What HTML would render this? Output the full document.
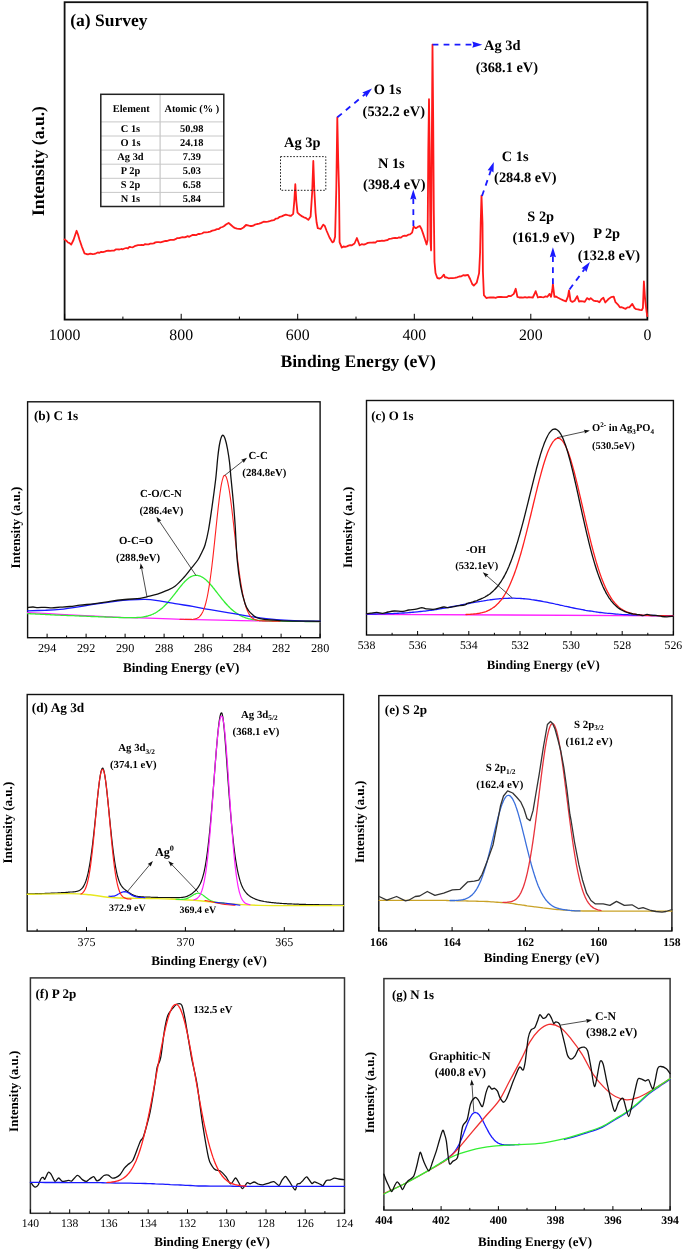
<!DOCTYPE html>
<html><head><meta charset="utf-8"><title>XPS spectra</title>
<style>html,body{margin:0;padding:0;background:#fff;}svg{display:block;will-change:transform;}text{font-family:"Liberation Serif",serif;text-rendering:geometricPrecision;}</style>
</head><body>
<svg width="685" height="1251" viewBox="0 0 685 1251">
<rect width="685" height="1251" fill="#fff"/>
<rect x="64.6" y="2.2" width="582.8" height="317.4" fill="none" stroke="#111" stroke-width="1.8"/>
<line x1="64.6" y1="319.6" x2="64.6" y2="313.8" stroke="#000" stroke-width="1.0" />
<line x1="181.2" y1="319.6" x2="181.2" y2="313.8" stroke="#000" stroke-width="1.0" />
<line x1="297.7" y1="319.6" x2="297.7" y2="313.8" stroke="#000" stroke-width="1.0" />
<line x1="414.3" y1="319.6" x2="414.3" y2="313.8" stroke="#000" stroke-width="1.0" />
<line x1="530.8" y1="319.6" x2="530.8" y2="313.8" stroke="#000" stroke-width="1.0" />
<line x1="647.4" y1="319.6" x2="647.4" y2="313.8" stroke="#000" stroke-width="1.0" />
<line x1="122.9" y1="319.6" x2="122.9" y2="316.6" stroke="#000" stroke-width="1.0" />
<line x1="239.4" y1="319.6" x2="239.4" y2="316.6" stroke="#000" stroke-width="1.0" />
<line x1="356" y1="319.6" x2="356" y2="316.6" stroke="#000" stroke-width="1.0" />
<line x1="472.6" y1="319.6" x2="472.6" y2="316.6" stroke="#000" stroke-width="1.0" />
<line x1="589.1" y1="319.6" x2="589.1" y2="316.6" stroke="#000" stroke-width="1.0" />
<text x="64.6" y="339.8" font-size="15.8" font-weight="normal" text-anchor="middle" fill="#000" font-family="Liberation Serif" >1000</text>
<text x="181.2" y="339.8" font-size="15.8" font-weight="normal" text-anchor="middle" fill="#000" font-family="Liberation Serif" >800</text>
<text x="297.7" y="339.8" font-size="15.8" font-weight="normal" text-anchor="middle" fill="#000" font-family="Liberation Serif" >600</text>
<text x="414.3" y="339.8" font-size="15.8" font-weight="normal" text-anchor="middle" fill="#000" font-family="Liberation Serif" >400</text>
<text x="530.8" y="339.8" font-size="15.8" font-weight="normal" text-anchor="middle" fill="#000" font-family="Liberation Serif" >200</text>
<text x="647.4" y="339.8" font-size="15.8" font-weight="normal" text-anchor="middle" fill="#000" font-family="Liberation Serif" >0</text>
<text x="70.2" y="25.5" font-size="17.5" font-weight="bold" text-anchor="start" fill="#000" font-family="Liberation Serif" >(a) Survey</text>
<text x="280.5" y="367" font-size="17.6" font-weight="bold" text-anchor="start" fill="#000" font-family="Liberation Serif" >Binding Energy (eV)</text>
<text transform="translate(43.8 216) rotate(-90)" font-size="17.6" font-weight="bold" font-family="Liberation Serif" >Intensity (a.u.)</text>
<path d="M64.6 239.4 L66.3 240.7 L68 242.5 L69.6 243.1 L71.2 244.6 L73.5 240 L76.6 230.8 L78 234.5 L79.6 240 L82 247 L84.5 253.3 L86.2 254 L88 254.3 L90.3 253.7 L92.7 254.2 L94.4 253.9 L96.1 253.3 L97.8 252.5 L99.5 252.8 L101.2 251.8 L102.9 252.1 L104.7 251.7 L106.5 250.9 L108.4 250.6 L110.2 250.8 L112 250.6 L113.9 250.7 L115.7 249.4 L117.6 249.3 L119.4 249.5 L121.3 249 L122.9 249.3 L124.5 248.5 L126.2 248 L127.8 248.5 L129.4 246.9 L131 247.2 L132.8 247.3 L134.6 246.2 L136.3 245.6 L138.1 245.2 L139.9 245.1 L141.7 245 L143.4 245.2 L145.1 244.1 L146.8 244.4 L148.6 244.3 L150.3 243.7 L152 243.6 L153.7 243.4 L155.4 242.4 L157.1 242.1 L158.8 242.1 L160.5 242.4 L162.2 241.9 L163.8 241.4 L165.5 240.9 L167.1 241 L168.7 240.4 L170.4 239.9 L172 239.8 L173.8 239.8 L175.5 239.2 L177.3 238.1 L179.1 238.2 L180.8 237.7 L182.6 237.2 L184.3 237.4 L186 237 L187.6 236.1 L189.3 236.8 L191 235.8 L192.8 234.9 L194.6 235 L196.4 235.1 L198.2 233.9 L200 234 L202 233.5 L204 232.3 L206 232.4 L208.1 232.1 L210.2 231.6 L212.3 230.7 L214.7 230.1 L217 229.2 L218.8 229 L220.7 227.5 L222.5 227 L224.2 226 L226 224.5 L228.6 222.9 L231 225 L233.7 227.4 L235.3 228.1 L237 228.6 L238.9 228.9 L240.9 229 L243.5 227.5 L246 225 L248 225.4 L250 226 L251.7 226 L253.3 225.7 L255 224.6 L257.1 224 L259.2 223.7 L261.3 222.9 L263.6 221.7 L266 221.8 L267.8 221.6 L269.7 221.1 L271.5 220.5 L273.8 220.2 L276 218.6 L277.9 218.3 L279.8 216.8 L281.7 216.4 L283.8 215.4 L285.8 214.7 L289 215.5 L291 215.8 L293.2 213.8 L294.3 201 L295.3 184.2 L296.3 201 L297.5 212.7 L299.5 214.5 L302.2 216.4 L303.9 217.3 L305.5 217.8 L308.3 219.9 L310.6 216.5 L312.2 192 L313.3 161 L314.4 192 L315.6 213 L316.6 222.5 L317.8 228.2 L320.6 229 L323.2 224.6 L324.8 226 L326.7 231 L329.5 237.5 L332.4 242.4 L333.8 241.5 L335.1 236.7 L336.3 188.5 L337.3 117.4 L338.2 160 L339 188.5 L339.6 242.3 L341.8 247.6 L343.5 246.5 L345.2 246.8 L346.9 246.4 L348.5 245.6 L350.2 245.1 L351.9 245.3 L354.5 243.5 L356.9 238 L358.2 241.5 L359.6 245.3 L361.7 244.2 L363.9 244.7 L366 243.8 L367.9 242.9 L369.9 242.7 L371.9 242.6 L373.8 242.4 L375.4 242.6 L377.1 241.1 L378.7 241.2 L380.4 241 L382 240.6 L383.9 240.8 L385.7 240.3 L387.6 240 L389.4 238.8 L391.3 238.7 L393.2 238.2 L395.1 237.8 L397.1 238.2 L399 237.3 L400.9 237.6 L402.8 236.1 L404.7 235.7 L406.6 235.8 L408.3 234.7 L410 234.4 L412.1 232.6 L413.6 226.6 L415.8 228.2 L417.8 226.9 L419.8 226 L421.5 229 L423.1 233.6 L425 239.5 L426.6 244.5 L427.6 240 L428.3 150 L429 99.2 L429.7 150 L430.4 240 L431.1 250.4 L431.7 160 L432.5 44.6 L433.2 120 L433.8 210 L434.5 262 L435.5 273 L437.3 278 L439.5 278.5 L441.5 277.5 L443.9 274.6 L445 277.4 L446.8 277.5 L448.5 278.3 L450.6 278.2 L452.6 278.1 L454.8 277.8 L457 277.3 L459.2 276.5 L461.4 276.3 L463.2 275.2 L465 275.5 L468 274.8 L470.1 279 L472.2 284 L473.8 285.6 L476.7 282.7 L479.1 273.1 L480.1 252 L480.7 223.3 L481.5 195.6 L482.5 223.3 L482.9 271.2 L483.9 295.2 L486.3 298 L488.2 297.7 L490.1 297.5 L492 297.5 L493.8 297.4 L495.6 297.8 L497.4 297.2 L499.2 296.8 L501.1 297 L503.1 297.2 L505 297.2 L507 297.1 L508.9 295.8 L510.9 296.1 L513.8 293.9 L515.7 288.8 L517.4 296.8 L519.3 297.5 L521.2 297.4 L523.1 297.6 L525 297.2 L527 297.7 L528.9 297.2 L530.8 297.3 L532.8 297.5 L534.5 294 L535.7 291.2 L537.9 297.5 L540 296.8 L542 297.2 L543.8 297.3 L545.6 296.3 L547.4 296.8 L549.6 293.9 L551 296.8 L552.3 290 L552.9 284.2 L553.6 290 L554.4 296.8 L556 296.5 L557.6 297.5 L560.5 299 L563.4 300.4 L566 301.3 L568 296.4 L569 290.5 L570.5 300.7 L572.4 301.9 L574.6 300.7 L577.2 296.1 L579 301.5 L580.9 301.2 L582.9 301.3 L584.8 301.9 L587 298.1 L589.2 299.6 L590.7 298.1 L593.6 300.7 L595.5 301 L597.5 301.1 L599.4 302.2 L601.4 299.3 L603.4 297.8 L605.3 302.5 L608.2 299.3 L611.1 297.1 L613.7 296.6 L615.5 302.2 L617.7 304.3 L619.9 307.3 L621.8 307.2 L623.8 308.1 L625.7 308.8 L627.5 307.4 L629.3 307.3 L632.3 303.9 L634.5 308 L636.2 309.2 L638 309.3 L639.9 309.9 L641.8 310.2 L642.9 308 L643.9 281.5 L644.8 295 L645.4 302.2 L646.5 311 L647.3 316.1" fill="none" stroke="#ff1a1a" stroke-width="1.8" stroke-linejoin="round" stroke-linecap="round" />
<rect x="280.5" y="156.6" width="45.3" height="33.7" fill="none" stroke="#222" stroke-width="1" stroke-dasharray="1.6 1.6"/>
<text x="284" y="147.1" font-size="14.4" font-weight="bold" text-anchor="start" fill="#000" font-family="Liberation Serif" >Ag 3p</text>
<line x1="337.4" y1="117.3" x2="365.1" y2="94.2" stroke="#1a1aff" stroke-width="1.8" stroke-dasharray="5.8 5.2"/>
<path d="M372 88.4 L366.3 97.2 L365.1 94.2 L362.3 92.4 Z" fill="#1a1aff"/>
<text x="373.8" y="93.8" font-size="14.4" font-weight="bold" text-anchor="start" fill="#000" font-family="Liberation Serif" >O 1s</text>
<text x="362.6" y="115.7" font-size="14.4" font-weight="bold" text-anchor="start" fill="#000" font-family="Liberation Serif" >(532.2 eV)</text>
<line x1="432.6" y1="44.7" x2="473.3" y2="44.7" stroke="#1a1aff" stroke-width="1.8" stroke-dasharray="5.8 5.2"/>
<path d="M482.3 44.7 L472.3 47.8 L473.3 44.7 L472.3 41.6 Z" fill="#1a1aff"/>
<text x="484" y="50.2" font-size="14.4" font-weight="bold" text-anchor="start" fill="#000" font-family="Liberation Serif" >Ag 3d</text>
<text x="475.7" y="72.1" font-size="14.4" font-weight="bold" text-anchor="start" fill="#000" font-family="Liberation Serif" >(368.1 eV)</text>
<line x1="413.4" y1="226" x2="413.3" y2="198.6" stroke="#1a1aff" stroke-width="1.8" stroke-dasharray="5.8 5.2"/>
<path d="M413.3 189.6 L416.4 199.6 L413.3 198.6 L410.2 199.6 Z" fill="#1a1aff"/>
<text x="377.9" y="167.6" font-size="14.4" font-weight="bold" text-anchor="start" fill="#000" font-family="Liberation Serif" >N 1s</text>
<text x="363.1" y="189.3" font-size="14.4" font-weight="bold" text-anchor="start" fill="#000" font-family="Liberation Serif" >(398.4 eV)</text>
<line x1="482" y1="196" x2="490.9" y2="170.4" stroke="#1a1aff" stroke-width="1.8" stroke-dasharray="5.8 5.2"/>
<path d="M493.8 161.9 L493.5 172.4 L490.9 170.4 L487.6 170.3 Z" fill="#1a1aff"/>
<text x="501.8" y="160.9" font-size="14.4" font-weight="bold" text-anchor="start" fill="#000" font-family="Liberation Serif" >C 1s</text>
<text x="494.1" y="182.3" font-size="14.4" font-weight="bold" text-anchor="start" fill="#000" font-family="Liberation Serif" >(284.8 eV)</text>
<line x1="552.9" y1="284" x2="552.9" y2="256.2" stroke="#1a1aff" stroke-width="1.8" stroke-dasharray="5.8 5.2"/>
<path d="M552.9 247.2 L556 257.2 L552.9 256.2 L549.8 257.2 Z" fill="#1a1aff"/>
<text x="527.3" y="220.9" font-size="14.4" font-weight="bold" text-anchor="start" fill="#000" font-family="Liberation Serif" >S 2p</text>
<text x="512.4" y="242.3" font-size="14.4" font-weight="bold" text-anchor="start" fill="#000" font-family="Liberation Serif" >(161.9 eV)</text>
<line x1="569.5" y1="289.5" x2="584.5" y2="269.2" stroke="#1a1aff" stroke-width="1.8" stroke-dasharray="5.8 5.2"/>
<path d="M589.9 262 L586.4 271.9 L584.5 269.2 L581.5 268.2 Z" fill="#1a1aff"/>
<text x="593.3" y="237.7" font-size="14.4" font-weight="bold" text-anchor="start" fill="#000" font-family="Liberation Serif" >P 2p</text>
<text x="577.8" y="259.6" font-size="14.4" font-weight="bold" text-anchor="start" fill="#000" font-family="Liberation Serif" >(132.8 eV)</text>
<line x1="100.8" y1="121.9" x2="223.8" y2="121.9" stroke="#c8c8c8" stroke-width="1" />
<line x1="100.8" y1="136" x2="223.8" y2="136" stroke="#c8c8c8" stroke-width="1" />
<line x1="100.8" y1="150.1" x2="223.8" y2="150.1" stroke="#c8c8c8" stroke-width="1" />
<line x1="100.8" y1="164.2" x2="223.8" y2="164.2" stroke="#c8c8c8" stroke-width="1" />
<line x1="100.8" y1="178.3" x2="223.8" y2="178.3" stroke="#c8c8c8" stroke-width="1" />
<line x1="100.8" y1="192.4" x2="223.8" y2="192.4" stroke="#c8c8c8" stroke-width="1" />
<line x1="160.1" y1="94.3" x2="160.1" y2="206.5" stroke="#c8c8c8" stroke-width="1.2" />
<rect x="100.8" y="94.3" width="123" height="112.2" fill="none" stroke="#222" stroke-width="1.5" />
<text x="131.2" y="112" font-size="10.4" font-weight="bold" text-anchor="middle" fill="#000" font-family="Liberation Serif" >Element</text>
<text x="191.8" y="112" font-size="10.4" font-weight="bold" text-anchor="middle" fill="#000" font-family="Liberation Serif" >Atomic (% )</text>
<text x="130.5" y="131.6" font-size="10.4" font-weight="bold" text-anchor="middle" fill="#000" font-family="Liberation Serif" >C 1s</text>
<text x="191.8" y="131.6" font-size="10.4" font-weight="bold" text-anchor="middle" fill="#000" font-family="Liberation Serif" >50.98</text>
<text x="130.5" y="145.7" font-size="10.4" font-weight="bold" text-anchor="middle" fill="#000" font-family="Liberation Serif" >O 1s</text>
<text x="191.8" y="145.7" font-size="10.4" font-weight="bold" text-anchor="middle" fill="#000" font-family="Liberation Serif" >24.18</text>
<text x="130.5" y="159.7" font-size="10.4" font-weight="bold" text-anchor="middle" fill="#000" font-family="Liberation Serif" >Ag 3d</text>
<text x="191.8" y="159.7" font-size="10.4" font-weight="bold" text-anchor="middle" fill="#000" font-family="Liberation Serif" >7.39</text>
<text x="130.5" y="173.8" font-size="10.4" font-weight="bold" text-anchor="middle" fill="#000" font-family="Liberation Serif" >P 2p</text>
<text x="191.8" y="173.8" font-size="10.4" font-weight="bold" text-anchor="middle" fill="#000" font-family="Liberation Serif" >5.03</text>
<text x="130.5" y="187.8" font-size="10.4" font-weight="bold" text-anchor="middle" fill="#000" font-family="Liberation Serif" >S 2p</text>
<text x="191.8" y="187.8" font-size="10.4" font-weight="bold" text-anchor="middle" fill="#000" font-family="Liberation Serif" >6.58</text>
<text x="130.5" y="201.7" font-size="10.4" font-weight="bold" text-anchor="middle" fill="#000" font-family="Liberation Serif" >N 1s</text>
<text x="191.8" y="201.7" font-size="10.4" font-weight="bold" text-anchor="middle" fill="#000" font-family="Liberation Serif" >5.84</text>
<rect x="27.6" y="401.8" width="292.5" height="235.9" fill="none" stroke="#111" stroke-width="1.4"/>
<line x1="47.1" y1="637.7" x2="47.1" y2="633.7" stroke="#000" stroke-width="1.0" />
<line x1="86.1" y1="637.7" x2="86.1" y2="633.7" stroke="#000" stroke-width="1.0" />
<line x1="125.1" y1="637.7" x2="125.1" y2="633.7" stroke="#000" stroke-width="1.0" />
<line x1="164.1" y1="637.7" x2="164.1" y2="633.7" stroke="#000" stroke-width="1.0" />
<line x1="203.1" y1="637.7" x2="203.1" y2="633.7" stroke="#000" stroke-width="1.0" />
<line x1="242.1" y1="637.7" x2="242.1" y2="633.7" stroke="#000" stroke-width="1.0" />
<line x1="281.1" y1="637.7" x2="281.1" y2="633.7" stroke="#000" stroke-width="1.0" />
<line x1="320.1" y1="637.7" x2="320.1" y2="633.7" stroke="#000" stroke-width="1.0" />
<line x1="66.6" y1="637.7" x2="66.6" y2="635.5" stroke="#000" stroke-width="1.0" />
<line x1="105.6" y1="637.7" x2="105.6" y2="635.5" stroke="#000" stroke-width="1.0" />
<line x1="144.6" y1="637.7" x2="144.6" y2="635.5" stroke="#000" stroke-width="1.0" />
<line x1="183.6" y1="637.7" x2="183.6" y2="635.5" stroke="#000" stroke-width="1.0" />
<line x1="222.6" y1="637.7" x2="222.6" y2="635.5" stroke="#000" stroke-width="1.0" />
<line x1="261.6" y1="637.7" x2="261.6" y2="635.5" stroke="#000" stroke-width="1.0" />
<line x1="300.6" y1="637.7" x2="300.6" y2="635.5" stroke="#000" stroke-width="1.0" />
<text x="47.1" y="652.1" font-size="12.2" font-weight="normal" text-anchor="middle" fill="#000" font-family="Liberation Serif" >294</text>
<text x="86.1" y="652.1" font-size="12.2" font-weight="normal" text-anchor="middle" fill="#000" font-family="Liberation Serif" >292</text>
<text x="125.1" y="652.1" font-size="12.2" font-weight="normal" text-anchor="middle" fill="#000" font-family="Liberation Serif" >290</text>
<text x="164.1" y="652.1" font-size="12.2" font-weight="normal" text-anchor="middle" fill="#000" font-family="Liberation Serif" >288</text>
<text x="203.1" y="652.1" font-size="12.2" font-weight="normal" text-anchor="middle" fill="#000" font-family="Liberation Serif" >286</text>
<text x="242.1" y="652.1" font-size="12.2" font-weight="normal" text-anchor="middle" fill="#000" font-family="Liberation Serif" >284</text>
<text x="281.1" y="652.1" font-size="12.2" font-weight="normal" text-anchor="middle" fill="#000" font-family="Liberation Serif" >282</text>
<text x="320.1" y="652.1" font-size="12.2" font-weight="normal" text-anchor="middle" fill="#000" font-family="Liberation Serif" >280</text>
<text x="33.9" y="420.2" font-size="13.3" font-weight="bold" text-anchor="start" fill="#000" font-family="Liberation Serif" >(b) C 1s</text>
<text x="122.9" y="671.5" font-size="13.2" font-weight="bold" text-anchor="start" fill="#000" font-family="Liberation Serif" >Binding Energy (eV)</text>
<text transform="translate(19.6 568.4) rotate(-90)" font-size="13.1" font-weight="bold" font-family="Liberation Serif" >Intensity (a.u.)</text>
<path d="M27.6 612.6 C33 612.9 48.8 613.7 60 614.3 C71.2 614.9 85 615.6 95 616.1 C105 616.6 112.5 617 120 617.3 C127.5 617.6 131.7 617.6 140 617.9 C148.3 618.2 161.2 618.6 170 618.9 C178.8 619.2 184.3 619.4 192.6 619.6 C200.9 619.8 208.8 620 220 620.2 C231.2 620.4 248.3 620.7 260 620.9 C271.7 621.1 280 621.2 290 621.3 C300 621.4 315.1 621.6 320.1 621.7" fill="none" stroke="#ff22ff" stroke-width="1.3" stroke-linejoin="round" stroke-linecap="round" />
<path d="M27.6 613.6 C27.9 613.6 28.9 613.7 29.6 613.7 C30.3 613.7 30.9 613.8 31.6 613.8 C32.3 613.8 32.9 613.9 33.6 613.9 C34.3 613.9 34.9 614 35.6 614 C36.3 614 36.9 614.1 37.6 614.1 C38.3 614.1 38.9 614.2 39.6 614.2 C40.3 614.2 40.9 614.3 41.6 614.3 C42.3 614.3 42.9 614.4 43.6 614.4 C44.3 614.4 44.9 614.5 45.6 614.5 C46.3 614.5 46.9 614.6 47.6 614.6 C48.3 614.6 48.9 614.7 49.6 614.7 C50.3 614.7 50.9 614.8 51.6 614.8 C52.3 614.8 52.9 614.9 53.6 614.9 C54.3 614.9 54.9 614.9 55.6 615 C56.3 615 56.9 615 57.6 615.1 C58.3 615.1 58.9 615.1 59.6 615.2 C60.3 615.2 60.9 615.2 61.6 615.3 C62.3 615.3 62.9 615.3 63.6 615.3 C64.3 615.4 64.9 615.4 65.6 615.4 C66.3 615.5 66.9 615.5 67.6 615.5 C68.3 615.5 68.9 615.6 69.6 615.6 C70.3 615.6 70.9 615.6 71.6 615.7 C72.3 615.7 72.9 615.7 73.6 615.7 C74.3 615.8 74.9 615.8 75.6 615.8 C76.3 615.9 76.9 615.9 77.6 615.9 C78.3 615.9 78.9 616 79.6 616 C80.3 616 80.9 616 81.6 616.1 C82.3 616.1 82.9 616.1 83.6 616.1 C84.3 616.2 84.9 616.2 85.6 616.2 C86.3 616.3 86.9 616.3 87.6 616.3 C88.3 616.3 88.9 616.4 89.6 616.4 C90.3 616.4 90.9 616.4 91.6 616.5 C92.3 616.5 92.9 616.5 93.6 616.5 C94.3 616.6 94.9 616.6 95.6 616.6 C96.3 616.7 96.9 616.7 97.6 616.7 C98.3 616.7 98.9 616.8 99.6 616.8 C100.3 616.8 100.9 616.8 101.6 616.9 C102.3 616.9 102.9 616.9 103.6 616.9 C104.3 617 104.9 617 105.6 617 C106.3 617 106.9 617.1 107.6 617.1 C108.3 617.1 108.9 617.1 109.6 617.2 C110.3 617.2 110.9 617.2 111.6 617.2 C112.3 617.3 112.9 617.3 113.6 617.3 C114.3 617.3 114.9 617.3 115.6 617.4 C116.3 617.4 116.9 617.4 117.6 617.4 C118.3 617.5 118.9 617.5 119.6 617.5 C120.3 617.5 120.9 617.5 121.6 617.6 C122.3 617.6 122.9 617.6 123.6 617.6 C124.3 617.6 124.9 617.6 125.6 617.7 C126.3 617.7 126.9 617.7 127.6 617.7 C128.3 617.7 128.9 617.7 129.6 617.7 C130.3 617.7 130.9 617.7 131.6 617.7 C132.3 617.7 132.9 617.7 133.6 617.7 C134.3 617.7 134.9 617.7 135.6 617.6 C136.3 617.6 136.9 617.6 137.6 617.5 C138.3 617.5 138.9 617.4 139.6 617.4 C140.3 617.3 140.9 617.2 141.6 617.2 C142.3 617.1 142.9 617 143.6 616.9 C144.3 616.8 144.9 616.6 145.6 616.5 C146.3 616.3 146.9 616.2 147.6 616 C148.3 615.8 148.9 615.6 149.6 615.4 C150.3 615.2 150.9 614.9 151.6 614.7 C152.3 614.4 152.9 614.1 153.6 613.8 C154.3 613.5 154.9 613.1 155.6 612.8 C156.3 612.4 156.9 612 157.6 611.5 C158.3 611.1 158.9 610.6 159.6 610.1 C160.3 609.6 160.9 609.1 161.6 608.6 C162.3 608 162.9 607.4 163.6 606.8 C164.3 606.1 164.9 605.5 165.6 604.8 C166.3 604.1 166.9 603.4 167.6 602.7 C168.3 601.9 168.9 601.1 169.6 600.4 C170.3 599.6 170.9 598.7 171.6 597.9 C172.3 597.1 172.9 596.2 173.6 595.4 C174.3 594.5 174.9 593.7 175.6 592.8 C176.3 591.9 176.9 591 177.6 590.2 C178.3 589.3 178.9 588.5 179.6 587.6 C180.3 586.8 180.9 586 181.6 585.2 C182.3 584.4 182.9 583.6 183.6 582.9 C184.3 582.1 184.9 581.4 185.6 580.8 C186.3 580.1 186.9 579.5 187.6 579 C188.3 578.4 188.9 577.9 189.6 577.5 C190.3 577 190.9 576.7 191.6 576.4 C192.3 576 192.9 575.8 193.6 575.6 C194.3 575.4 194.9 575.3 195.6 575.3 C196.3 575.3 196.9 575.3 197.6 575.4 C198.3 575.5 198.9 575.7 199.6 575.9 C200.3 576.2 200.9 576.4 201.6 576.8 C202.3 577.1 202.9 577.6 203.6 578 C204.3 578.5 204.9 579 205.6 579.6 C206.3 580.2 206.9 580.8 207.6 581.4 C208.3 582.1 208.9 582.8 209.6 583.5 C210.3 584.3 210.9 585 211.6 585.8 C212.3 586.6 212.9 587.4 213.6 588.3 C214.3 589.1 214.9 589.9 215.6 590.8 C216.3 591.6 216.9 592.5 217.6 593.4 C218.3 594.2 218.9 595.1 219.6 595.9 C220.3 596.8 220.9 597.6 221.6 598.5 C222.3 599.3 222.9 600.1 223.6 600.9 C224.3 601.7 224.9 602.5 225.6 603.2 C226.3 604 226.9 604.7 227.6 605.4 C228.3 606.1 228.9 606.8 229.6 607.5 C230.3 608.1 230.9 608.8 231.6 609.4 C232.3 609.9 232.9 610.5 233.6 611.1 C234.3 611.6 234.9 612.1 235.6 612.6 C236.3 613 236.9 613.5 237.6 613.9 C238.3 614.3 238.9 614.7 239.6 615.1 C240.3 615.5 240.9 615.8 241.6 616.1 C242.3 616.4 242.9 616.7 243.6 617 C244.3 617.3 244.9 617.5 245.6 617.8 C246.3 618 246.9 618.2 247.6 618.4 C248.3 618.6 248.9 618.8 249.6 618.9 C250.3 619.1 250.9 619.2 251.6 619.4 C252.3 619.5 252.9 619.6 253.6 619.7 C254.3 619.8 254.9 619.9 255.6 620 C256.3 620.1 256.9 620.2 257.6 620.3 C258.3 620.4 258.9 620.4 259.6 620.5 C260.3 620.5 260.9 620.6 261.6 620.6 C262.3 620.7 262.9 620.7 263.6 620.7 C264.3 620.8 264.9 620.8 265.6 620.8 C266.3 620.9 266.9 620.9 267.6 620.9 C268.3 620.9 268.9 621 269.6 621 C270.3 621 270.9 621 271.6 621 C272.3 621.1 272.9 621.1 273.6 621.1 C274.3 621.1 274.9 621.1 275.6 621.1 C276.3 621.1 276.9 621.1 277.6 621.1 C278.3 621.2 278.9 621.2 279.6 621.2 C280.3 621.2 280.9 621.2 281.6 621.2 C282.3 621.2 282.9 621.2 283.6 621.2 C284.3 621.2 284.9 621.2 285.6 621.2 C286.3 621.3 286.9 621.3 287.6 621.3 C288.3 621.3 288.9 621.3 289.6 621.3 C290.3 621.3 290.9 621.3 291.6 621.3 C292.3 621.3 292.9 621.3 293.6 621.3 C294.3 621.3 294.9 621.3 295.6 621.4 C296.3 621.4 296.9 621.4 297.6 621.4 C298.3 621.4 298.9 621.4 299.6 621.4 C300.3 621.4 300.9 621.4 301.6 621.4 C302.3 621.4 302.9 621.4 303.6 621.4 C304.3 621.4 304.9 621.4 305.6 621.5 C306.3 621.5 306.9 621.5 307.6 621.5 C308.3 621.5 308.9 621.5 309.6 621.5 C310.3 621.5 310.9 621.5 311.6 621.5 C312.3 621.5 312.9 621.5 313.6 621.5 C314.3 621.5 314.9 621.5 315.6 621.6 C316.3 621.6 316.9 621.6 317.6 621.6 C318.3 621.6 319.2 621.6 319.6 621.6 C320 621.6 320 621.6 320.1 621.6" fill="none" stroke="#33ee33" stroke-width="1.3" stroke-linejoin="round" stroke-linecap="round" />
<path d="M27.6 610.8 C30.5 610.7 39.6 610.5 45 610.3 C50.4 610.1 54.2 610 60 609.4 C65.8 608.8 74.2 607.5 80 606.6 C85.8 605.7 89.2 604.9 95 604 C100.8 603.1 109.2 602 115 601.3 C120.8 600.6 125 600.2 130 599.9 C135 599.6 140.4 599.3 145 599.4 C149.6 599.5 152.5 599.9 157.5 600.6 C162.5 601.3 169.2 602.6 175 603.6 C180.8 604.6 186.8 605.4 192.6 606.4 C198.4 607.4 204.3 608.7 210.1 609.7 C215.9 610.7 221.8 611.6 227.6 612.6 C233.4 613.6 239.7 614.7 245.1 615.6 C250.5 616.5 254.1 617.1 260 617.8 C265.9 618.5 273.9 619.4 280.6 619.9 C287.3 620.4 293.4 620.6 300 620.8 C306.6 621 316.8 621.1 320.1 621.2" fill="none" stroke="#1a1aff" stroke-width="1.3" stroke-linejoin="round" stroke-linecap="round" />
<path d="M180 619.2 C180.2 619.2 180.7 619.2 181 619.2 C181.3 619.2 181.7 619.3 182 619.3 C182.3 619.3 182.7 619.3 183 619.3 C183.3 619.3 183.7 619.3 184 619.3 C184.3 619.3 184.7 619.3 185 619.4 C185.3 619.4 185.7 619.4 186 619.4 C186.3 619.4 186.7 619.4 187 619.4 C187.3 619.4 187.7 619.4 188 619.4 C188.3 619.4 188.7 619.4 189 619.4 C189.3 619.4 189.7 619.4 190 619.4 C190.3 619.4 190.7 619.4 191 619.4 C191.3 619.4 191.7 619.4 192 619.4 C192.3 619.3 192.7 619.3 193 619.3 C193.3 619.2 193.7 619.2 194 619.1 C194.3 619.1 194.7 619 195 618.9 C195.3 618.9 195.7 618.8 196 618.7 C196.3 618.6 196.7 618.4 197 618.3 C197.3 618.1 197.7 618 198 617.8 C198.3 617.6 198.7 617.3 199 617.1 C199.3 616.8 199.7 616.5 200 616.1 C200.3 615.8 200.7 615.4 201 614.9 C201.3 614.4 201.7 613.9 202 613.3 C202.3 612.8 202.7 612.1 203 611.4 C203.3 610.6 203.7 609.8 204 608.9 C204.3 608 204.7 607 205 605.9 C205.3 604.8 205.7 603.7 206 602.3 C206.3 601 206.7 599.6 207 598 C207.3 596.5 207.7 594.8 208 593 C208.3 591.2 208.7 589.3 209 587.2 C209.3 585.2 209.7 583 210 580.7 C210.3 578.3 210.7 575.9 211 573.3 C211.3 570.8 211.7 568.1 212 565.3 C212.3 562.5 212.7 559.6 213 556.6 C213.3 553.6 213.7 550.5 214 547.4 C214.3 544.3 214.7 541.1 215 537.9 C215.3 534.7 215.7 531.5 216 528.3 C216.3 525.1 216.7 521.9 217 518.8 C217.3 515.6 217.7 512.5 218 509.6 C218.3 506.6 218.7 503.7 219 501 C219.3 498.3 219.7 495.7 220 493.3 C220.3 490.9 220.7 488.7 221 486.7 C221.3 484.7 221.7 483 222 481.5 C222.3 480 222.7 478.7 223 477.8 C223.3 476.8 223.7 476.1 224 475.7 C224.3 475.3 224.7 475.2 225 475.4 C225.3 475.5 225.7 475.9 226 476.6 C226.3 477.2 226.7 478.1 227 479.3 C227.3 480.4 227.7 481.8 228 483.3 C228.3 484.9 228.7 486.7 229 488.7 C229.3 490.6 229.7 492.8 230 495.1 C230.3 497.4 230.7 499.9 231 502.5 C231.3 505 231.7 507.8 232 510.5 C232.3 513.3 232.7 516.2 233 519.1 C233.3 522 233.7 525 234 528 C234.3 531 234.7 534 235 537 C235.3 540 235.7 543 236 545.9 C236.3 548.8 236.7 551.7 237 554.5 C237.3 557.3 237.7 560.1 238 562.8 C238.3 565.4 238.7 568 239 570.5 C239.3 573 239.7 575.4 240 577.7 C240.3 580 240.7 582.1 241 584.2 C241.3 586.3 241.7 588.2 242 590.1 C242.3 591.9 242.7 593.6 243 595.2 C243.3 596.9 243.7 598.4 244 599.8 C244.3 601.2 244.7 602.5 245 603.7 C245.3 604.9 245.7 606 246 607 C246.3 608 246.7 608.9 247 609.8 C247.3 610.6 247.7 611.4 248 612.1 C248.3 612.8 248.7 613.4 249 614 C249.3 614.6 249.7 615.1 250 615.5 C250.3 616 250.7 616.4 251 616.8 C251.3 617.2 251.7 617.5 252 617.8 C252.3 618.1 252.7 618.3 253 618.5 C253.3 618.8 253.7 619 254 619.1 C254.3 619.3 254.7 619.5 255 619.6 C255.3 619.7 255.7 619.8 256 619.9 C256.3 620 256.7 620.1 257 620.2 C257.3 620.3 257.7 620.4 258 620.4 C258.3 620.5 258.7 620.5 259 620.6 C259.3 620.6 259.7 620.6 260 620.7 C260.3 620.7 260.7 620.7 261 620.8 C261.3 620.8 261.7 620.8 262 620.8 C262.3 620.8 262.7 620.9 263 620.9 C263.3 620.9 263.7 620.9 264 620.9 C264.3 620.9 264.7 620.9 265 620.9 C265.3 620.9 265.7 621 266 621 C266.3 621 266.7 621 267 621 C267.3 621 267.7 621 268 621 C268.3 621 268.7 621 269 621 C269.3 621 269.7 621 270 621 C270.3 621 270.7 621 271 621 C271.3 621 271.7 621.1 272 621.1 C272.3 621.1 272.7 621.1 273 621.1 C273.3 621.1 273.7 621.1 274 621.1 C274.3 621.1 274.7 621.1 275 621.1 C275.3 621.1 275.7 621.1 276 621.1 C276.3 621.1 276.7 621.1 277 621.1 C277.3 621.1 277.7 621.1 278 621.1 C278.3 621.1 278.7 621.1 279 621.2 C279.3 621.2 279.8 621.2 280 621.2" fill="none" stroke="#ff2020" stroke-width="1.1" stroke-linejoin="round" stroke-linecap="round" />
<path d="M27.6 607.6 C28.5 607.5 31.3 607 33 607 C34.7 607 36 607.6 38 607.6 C40 607.6 42.7 607.3 45 607.3 C47.3 607.3 49.5 607.8 52 607.8 C54.5 607.8 57 607.4 60 607.2 C63 607 66.7 606.8 70 606.5 C73.3 606.2 75.8 605.7 80 605.2 C84.2 604.7 90 604.2 95 603.6 C100 603 105 602 110 601.3 C115 600.6 120 600 125 599.5 C130 599 136.3 598.9 140 598.4 C143.7 597.9 144.1 597.5 147 596.8 C149.9 596.1 154.3 595.2 157.5 594.2 C160.7 593.2 163.4 592 166.3 590.7 C169.2 589.4 172.1 588.5 175 586.3 C177.9 584.1 181.2 580.4 183.8 577.5 C186.4 574.6 188.5 571.7 190.8 568.8 C193.1 565.9 195.9 562.8 197.8 560 C199.7 557.2 200.8 554.5 202 552 C203.2 549.5 204 548.5 205.1 544.8 C206.2 541.1 207.3 536.4 208.5 530 C209.7 523.6 210.9 514.6 212.1 506.3 C213.3 498 214.6 488.2 215.6 480 C216.6 471.8 217.1 463.3 217.8 457 C218.5 450.7 219.2 445.6 220 442 C220.8 438.4 221.7 435.9 222.5 435.3 C223.3 434.7 224.2 436.2 225 438.5 C225.8 440.8 226.8 445.1 227.5 449 C228.2 452.9 228.9 456.9 229.5 462 C230.1 467.1 230.4 472.3 231.1 479.3 C231.8 486.3 232.8 496.2 233.5 504 C234.2 511.8 234.6 517 235.2 526.3 C235.8 535.6 236.3 550 237.2 560 C238.1 570 239.4 579 240.7 586.3 C242 593.6 243.8 599.8 245.1 603.8 C246.4 607.8 247.3 608.8 248.5 610.5 C249.7 612.2 250.8 613.2 252.1 614.3 C253.3 615.4 254.7 616.6 256 617.3 C257.3 618 258.3 618.3 260 618.7 C261.7 619.1 262.7 619.3 266 619.6 C269.3 619.9 274.3 620.4 280 620.6 C285.7 620.9 293.3 621 300 621.1 C306.7 621.2 316.8 621.4 320.1 621.4" fill="none" stroke="#111" stroke-width="1.3" stroke-linejoin="round" stroke-linecap="round" />
<line x1="224.6" y1="475.5" x2="242.9" y2="461" stroke="#111" stroke-width="0.75" />
<path d="M247 457.8 L243.7 463 L242.9 461 L241.2 459.8 Z" fill="#111"/>
<text x="248.5" y="459.2" font-size="10.8" font-weight="bold" text-anchor="start" fill="#000" font-family="Liberation Serif" >C-C</text>
<text x="242.3" y="475.6" font-size="10.8" font-weight="bold" text-anchor="start" fill="#000" font-family="Liberation Serif" >(284.8eV)</text>
<line x1="196" y1="575.5" x2="159.3" y2="521.1" stroke="#111" stroke-width="0.75" />
<path d="M156.4 516.8 L161.3 520.5 L159.3 521.1 L158 522.7 Z" fill="#111"/>
<text x="139.9" y="497.2" font-size="10.8" font-weight="bold" text-anchor="start" fill="#000" font-family="Liberation Serif" >C-O/C-N</text>
<text x="139.4" y="513.6" font-size="10.8" font-weight="bold" text-anchor="start" fill="#000" font-family="Liberation Serif" >(286.4eV)</text>
<line x1="147" y1="597" x2="141.6" y2="568.3" stroke="#111" stroke-width="0.75" />
<path d="M140.6 563.2 L143.6 568.5 L141.6 568.3 L139.7 569.3 Z" fill="#111"/>
<text x="118.9" y="544.3" font-size="10.8" font-weight="bold" text-anchor="start" fill="#000" font-family="Liberation Serif" >O-C=O</text>
<text x="116.1" y="560.6" font-size="10.8" font-weight="bold" text-anchor="start" fill="#000" font-family="Liberation Serif" >(288.9eV)</text>
<rect x="366.5" y="400.5" width="306.9" height="234.5" fill="none" stroke="#111" stroke-width="1.4"/>
<line x1="366.5" y1="635" x2="366.5" y2="631" stroke="#000" stroke-width="1.0" />
<line x1="417.6" y1="635" x2="417.6" y2="631" stroke="#000" stroke-width="1.0" />
<line x1="468.8" y1="635" x2="468.8" y2="631" stroke="#000" stroke-width="1.0" />
<line x1="520" y1="635" x2="520" y2="631" stroke="#000" stroke-width="1.0" />
<line x1="571.1" y1="635" x2="571.1" y2="631" stroke="#000" stroke-width="1.0" />
<line x1="622.2" y1="635" x2="622.2" y2="631" stroke="#000" stroke-width="1.0" />
<line x1="673.4" y1="635" x2="673.4" y2="631" stroke="#000" stroke-width="1.0" />
<line x1="392.1" y1="635" x2="392.1" y2="632.8" stroke="#000" stroke-width="1.0" />
<line x1="443.2" y1="635" x2="443.2" y2="632.8" stroke="#000" stroke-width="1.0" />
<line x1="494.4" y1="635" x2="494.4" y2="632.8" stroke="#000" stroke-width="1.0" />
<line x1="545.5" y1="635" x2="545.5" y2="632.8" stroke="#000" stroke-width="1.0" />
<line x1="596.7" y1="635" x2="596.7" y2="632.8" stroke="#000" stroke-width="1.0" />
<line x1="647.8" y1="635" x2="647.8" y2="632.8" stroke="#000" stroke-width="1.0" />
<text x="366.5" y="649.3" font-size="11.8" font-weight="normal" text-anchor="middle" fill="#000" font-family="Liberation Serif" >538</text>
<text x="417.6" y="649.3" font-size="11.8" font-weight="normal" text-anchor="middle" fill="#000" font-family="Liberation Serif" >536</text>
<text x="468.8" y="649.3" font-size="11.8" font-weight="normal" text-anchor="middle" fill="#000" font-family="Liberation Serif" >534</text>
<text x="520" y="649.3" font-size="11.8" font-weight="normal" text-anchor="middle" fill="#000" font-family="Liberation Serif" >532</text>
<text x="571.1" y="649.3" font-size="11.8" font-weight="normal" text-anchor="middle" fill="#000" font-family="Liberation Serif" >530</text>
<text x="622.2" y="649.3" font-size="11.8" font-weight="normal" text-anchor="middle" fill="#000" font-family="Liberation Serif" >528</text>
<text x="673.4" y="649.3" font-size="11.8" font-weight="normal" text-anchor="middle" fill="#000" font-family="Liberation Serif" >526</text>
<text x="371.2" y="419.9" font-size="12.9" font-weight="bold" text-anchor="start" fill="#000" font-family="Liberation Serif" >(c) O 1s</text>
<text x="486.7" y="668.5" font-size="12.8" font-weight="bold" text-anchor="start" fill="#000" font-family="Liberation Serif" >Binding Energy (eV)</text>
<text transform="translate(351.8 568) rotate(-90)" font-size="13.0" font-weight="bold" font-family="Liberation Serif" >Intensity (a.u.)</text>

<path d="M366.5 614.3 L673.4 615.8" fill="none" stroke="#ff22ff" stroke-width="1.3" stroke-linejoin="round" stroke-linecap="round" />
<path d="M366.5 614.1 C367 614.1 368.5 614.1 369.5 614 C370.5 614 371.5 614 372.5 614 C373.5 614 374.5 614 375.5 614 C376.5 613.9 377.5 613.9 378.5 613.9 C379.5 613.9 380.5 613.9 381.5 613.8 C382.5 613.8 383.5 613.8 384.5 613.8 C385.5 613.7 386.5 613.7 387.5 613.7 C388.5 613.7 389.5 613.6 390.5 613.6 C391.5 613.5 392.5 613.5 393.5 613.5 C394.5 613.4 395.5 613.4 396.5 613.3 C397.5 613.3 398.5 613.2 399.5 613.2 C400.5 613.1 401.5 613.1 402.5 613 C403.5 613 404.5 612.9 405.5 612.8 C406.5 612.8 407.5 612.7 408.5 612.6 C409.5 612.5 410.5 612.5 411.5 612.4 C412.5 612.3 413.5 612.2 414.5 612.1 C415.5 612 416.5 611.9 417.5 611.8 C418.5 611.7 419.5 611.6 420.5 611.5 C421.5 611.4 422.5 611.3 423.5 611.2 C424.5 611.1 425.5 611 426.5 610.8 C427.5 610.7 428.5 610.6 429.5 610.4 C430.5 610.3 431.5 610.2 432.5 610 C433.5 609.9 434.5 609.7 435.5 609.6 C436.5 609.4 437.5 609.3 438.5 609.1 C439.5 609 440.5 608.8 441.5 608.6 C442.5 608.5 443.5 608.3 444.5 608.1 C445.5 607.9 446.5 607.8 447.5 607.6 C448.5 607.4 449.5 607.2 450.5 607 C451.5 606.8 452.5 606.6 453.5 606.4 C454.5 606.3 455.5 606.1 456.5 605.9 C457.5 605.7 458.5 605.5 459.5 605.3 C460.5 605.1 461.5 604.9 462.5 604.7 C463.5 604.5 464.5 604.3 465.5 604.1 C466.5 603.9 467.5 603.7 468.5 603.5 C469.5 603.3 470.5 603.1 471.5 602.9 C472.5 602.7 473.5 602.5 474.5 602.3 C475.5 602.2 476.5 602 477.5 601.8 C478.5 601.6 479.5 601.4 480.5 601.3 C481.5 601.1 482.5 600.9 483.5 600.8 C484.5 600.6 485.5 600.4 486.5 600.3 C487.5 600.1 488.5 600 489.5 599.9 C490.5 599.7 491.5 599.6 492.5 599.5 C493.5 599.3 494.5 599.2 495.5 599.1 C496.5 599 497.5 598.9 498.5 598.8 C499.5 598.7 500.5 598.7 501.5 598.6 C502.5 598.5 503.5 598.5 504.5 598.4 C505.5 598.4 506.5 598.3 507.5 598.3 C508.5 598.3 509.5 598.2 510.5 598.2 C511.5 598.2 512.5 598.2 513.5 598.2 C514.5 598.2 515.5 598.2 516.5 598.3 C517.5 598.3 518.5 598.4 519.5 598.4 C520.5 598.5 521.5 598.5 522.5 598.6 C523.5 598.7 524.5 598.8 525.5 598.9 C526.5 599 527.5 599.1 528.5 599.2 C529.5 599.3 530.5 599.4 531.5 599.6 C532.5 599.7 533.5 599.8 534.5 600 C535.5 600.1 536.5 600.3 537.5 600.5 C538.5 600.6 539.5 600.8 540.5 601 C541.5 601.2 542.5 601.4 543.5 601.6 C544.5 601.7 545.5 601.9 546.5 602.1 C547.5 602.4 548.5 602.6 549.5 602.8 C550.5 603 551.5 603.2 552.5 603.4 C553.5 603.6 554.5 603.8 555.5 604.1 C556.5 604.3 557.5 604.5 558.5 604.7 C559.5 604.9 560.5 605.2 561.5 605.4 C562.5 605.6 563.5 605.8 564.5 606.1 C565.5 606.3 566.5 606.5 567.5 606.7 C568.5 606.9 569.5 607.1 570.5 607.3 C571.5 607.6 572.5 607.8 573.5 608 C574.5 608.2 575.5 608.4 576.5 608.6 C577.5 608.8 578.5 609 579.5 609.2 C580.5 609.4 581.5 609.5 582.5 609.7 C583.5 609.9 584.5 610.1 585.5 610.3 C586.5 610.4 587.5 610.6 588.5 610.8 C589.5 610.9 590.5 611.1 591.5 611.2 C592.5 611.4 593.5 611.5 594.5 611.7 C595.5 611.8 596.5 612 597.5 612.1 C598.5 612.2 599.5 612.4 600.5 612.5 C601.5 612.6 602.5 612.7 603.5 612.8 C604.5 612.9 605.5 613 606.5 613.2 C607.5 613.3 608.5 613.4 609.5 613.4 C610.5 613.5 611.5 613.6 612.5 613.7 C613.5 613.8 614.5 613.9 615.5 614 C616.5 614 617.5 614.1 618.5 614.2 C619.5 614.2 620.5 614.3 621.5 614.4 C622.5 614.4 623.5 614.5 624.5 614.6 C625.5 614.6 626.5 614.7 627.5 614.7 C628.5 614.8 629.5 614.8 630.5 614.9 C631.5 614.9 632.5 614.9 633.5 615 C634.5 615 635.5 615.1 636.5 615.1 C637.5 615.1 638.5 615.2 639.5 615.2 C640.5 615.2 641.5 615.2 642.5 615.3 C643.5 615.3 644.5 615.3 645.5 615.3 C646.5 615.4 647.5 615.4 648.5 615.4 C649.5 615.4 650.5 615.5 651.5 615.5 C652.5 615.5 653.5 615.5 654.5 615.5 C655.5 615.5 656.5 615.6 657.5 615.6 C658.5 615.6 659.5 615.6 660.5 615.6 C661.5 615.6 662.5 615.6 663.5 615.7 C664.5 615.7 665.5 615.7 666.5 615.7 C667.5 615.7 668.5 615.7 669.5 615.7 C670.5 615.7 671.9 615.7 672.5 615.7 C673.1 615.7 673.2 615.7 673.4 615.8" fill="none" stroke="#1a1aff" stroke-width="1.3" stroke-linejoin="round" stroke-linecap="round" />
<path d="M466 614.5 C466.3 614.5 467.3 614.5 468 614.4 C468.7 614.4 469.3 614.4 470 614.3 C470.7 614.3 471.3 614.2 472 614.2 C472.7 614.1 473.3 614.1 474 614 C474.7 613.9 475.3 613.9 476 613.8 C476.7 613.7 477.3 613.6 478 613.5 C478.7 613.4 479.3 613.3 480 613.1 C480.7 613 481.3 612.8 482 612.7 C482.7 612.5 483.3 612.3 484 612.1 C484.7 611.9 485.3 611.7 486 611.5 C486.7 611.2 487.3 610.9 488 610.6 C488.7 610.4 489.3 610 490 609.7 C490.7 609.3 491.3 608.9 492 608.5 C492.7 608.1 493.3 607.6 494 607.1 C494.7 606.6 495.3 606.1 496 605.5 C496.7 604.9 497.3 604.2 498 603.6 C498.7 602.9 499.3 602.1 500 601.3 C500.7 600.5 501.3 599.7 502 598.8 C502.7 597.8 503.3 596.9 504 595.8 C504.7 594.8 505.3 593.7 506 592.5 C506.7 591.3 507.3 590.1 508 588.7 C508.7 587.4 509.3 586 510 584.5 C510.7 583 511.3 581.5 512 579.8 C512.7 578.2 513.3 576.5 514 574.7 C514.7 572.9 515.3 571 516 569.1 C516.7 567.1 517.3 565.1 518 563 C518.7 560.9 519.3 558.7 520 556.4 C520.7 554.2 521.3 551.8 522 549.4 C522.7 547 523.3 544.6 524 542.1 C524.7 539.5 525.3 537 526 534.3 C526.7 531.7 527.3 529 528 526.3 C528.7 523.7 529.3 520.9 530 518.2 C530.7 515.4 531.3 512.6 532 509.8 C532.7 507.1 533.3 504.3 534 501.5 C534.7 498.7 535.3 496 536 493.2 C536.7 490.5 537.3 487.8 538 485.2 C538.7 482.5 539.3 479.9 540 477.4 C540.7 474.9 541.3 472.4 542 470 C542.7 467.7 543.3 465.4 544 463.2 C544.7 461.1 545.3 459 546 457 C546.7 455.1 547.3 453.3 548 451.6 C548.7 449.9 549.3 448.4 550 447 C550.7 445.6 551.3 444.4 552 443.3 C552.7 442.2 553.3 441.3 554 440.6 C554.7 439.8 555.3 439.3 556 438.9 C556.7 438.5 557.3 438.3 558 438.2 C558.7 438.2 559.3 438.4 560 438.7 C560.7 439.1 561.3 439.6 562 440.4 C562.7 441.1 563.3 442 564 443.1 C564.7 444.2 565.3 445.5 566 447 C566.7 448.4 567.3 450 568 451.8 C568.7 453.6 569.3 455.5 570 457.5 C570.7 459.6 571.3 461.8 572 464.1 C572.7 466.4 573.3 468.8 574 471.3 C574.7 473.8 575.3 476.4 576 479.1 C576.7 481.8 577.3 484.5 578 487.3 C578.7 490.1 579.3 493 580 495.8 C580.7 498.7 581.3 501.6 582 504.5 C582.7 507.4 583.3 510.3 584 513.2 C584.7 516.1 585.3 519 586 521.9 C586.7 524.8 587.3 527.6 588 530.4 C588.7 533.2 589.3 535.9 590 538.6 C590.7 541.3 591.3 544 592 546.5 C592.7 549.1 593.3 551.6 594 554 C594.7 556.4 595.3 558.8 596 561.1 C596.7 563.3 597.3 565.5 598 567.6 C598.7 569.7 599.3 571.7 600 573.7 C600.7 575.6 601.3 577.4 602 579.2 C602.7 580.9 603.3 582.6 604 584.2 C604.7 585.8 605.3 587.3 606 588.7 C606.7 590.1 607.3 591.4 608 592.7 C608.7 593.9 609.3 595.1 610 596.2 C610.7 597.3 611.3 598.3 612 599.3 C612.7 600.3 613.3 601.2 614 602 C614.7 602.8 615.3 603.6 616 604.3 C616.7 605 617.3 605.7 618 606.3 C618.7 606.9 619.3 607.5 620 608 C620.7 608.5 621.3 609 622 609.4 C622.7 609.9 623.3 610.2 624 610.6 C624.7 611 625.3 611.3 626 611.6 C626.7 611.9 627.3 612.2 628 612.4 C628.7 612.7 629.3 612.9 630 613.1 C630.7 613.3 631.3 613.5 632 613.6 C632.7 613.8 633.3 613.9 634 614.1 C634.7 614.2 635.3 614.3 636 614.4 C636.7 614.5 637.3 614.6 638 614.7 C638.7 614.8 639.3 614.9 640 614.9 C640.7 615 641.3 615.1 642 615.1 C642.7 615.2 643.3 615.2 644 615.3 C644.7 615.3 645.3 615.3 646 615.4 C646.7 615.4 647.3 615.4 648 615.4 C648.7 615.5 649.3 615.5 650 615.5 C650.7 615.5 651.3 615.6 652 615.6 C652.7 615.6 653.3 615.6 654 615.6 C654.7 615.6 655.3 615.6 656 615.6 C656.7 615.7 657.3 615.7 658 615.7 C658.7 615.7 659.3 615.7 660 615.7 C660.7 615.7 661.3 615.7 662 615.7 C662.7 615.7 663.3 615.7 664 615.7 C664.7 615.7 665.3 615.7 666 615.8 C666.7 615.8 667.3 615.8 668 615.8 C668.7 615.8 669.3 615.8 670 615.8 C670.7 615.8 671.4 615.8 672 615.8 C672.6 615.8 673.2 615.8 673.4 615.8" fill="none" stroke="#ff2020" stroke-width="1.3" stroke-linejoin="round" stroke-linecap="round" />
<path d="M366.5 613.9 C367.2 613.8 369.3 613.5 371 613.2 C372.7 613 374.8 612.4 376.7 612.4 C378.6 612.4 380.6 613.4 382.5 613.3 C384.4 613.2 386.1 612.4 388 612 C389.9 611.6 391.7 611.1 394.2 611 C396.7 610.9 400.6 611.6 403 611.4 C405.4 611.2 406.6 610.4 408.8 610 C411 609.6 413.9 609.6 416.1 609.2 C418.3 608.8 420.2 607.8 421.9 607.7 C423.6 607.7 424.1 608.6 426.3 608.9 C428.5 609.1 432.2 609.5 435.1 609.2 C438 608.9 441.6 607.2 443.8 607 C446 606.8 446.2 607.8 448.2 607.7 C450.1 607.6 452.7 606.8 455.5 606.3 C458.3 605.8 463.1 605.3 465 604.8 C466.9 604.3 466.3 603.7 467 603.4 C467.7 603.1 468.3 603.1 469 602.9 C469.7 602.7 470.3 602.5 471 602.4 C471.7 602.2 472.3 602 473 601.8 C473.7 601.6 474.3 601.4 475 601.1 C475.7 600.9 476.3 600.7 477 600.5 C477.7 600.2 478.3 600 479 599.7 C479.7 599.5 480.3 599.2 481 598.9 C481.7 598.6 482.3 598.3 483 598 C483.7 597.7 484.3 597.3 485 597 C485.7 596.6 486.3 596.2 487 595.8 C487.7 595.4 488.3 594.9 489 594.5 C489.7 594 490.3 593.5 491 592.9 C491.7 592.4 492.3 591.8 493 591.2 C493.7 590.6 494.3 589.9 495 589.2 C495.7 588.5 496.3 587.8 497 587 C497.7 586.2 498.3 585.4 499 584.5 C499.7 583.6 500.3 582.6 501 581.6 C501.7 580.6 502.3 579.5 503 578.3 C503.7 577.2 504.3 576 505 574.7 C505.7 573.4 506.3 572.1 507 570.7 C507.7 569.2 508.3 567.7 509 566.2 C509.7 564.6 510.3 562.9 511 561.2 C511.7 559.5 512.3 557.7 513 555.8 C513.7 553.9 514.3 552 515 550 C515.7 547.9 516.3 545.8 517 543.6 C517.7 541.5 518.3 539.2 519 536.9 C519.7 534.6 520.3 532.2 521 529.8 C521.7 527.4 522.3 524.9 523 522.3 C523.7 519.8 524.3 517.2 525 514.6 C525.7 512 526.3 509.3 527 506.6 C527.7 504 528.3 501.3 529 498.5 C529.7 495.8 530.3 493.1 531 490.4 C531.7 487.7 532.3 485 533 482.3 C533.7 479.7 534.3 477 535 474.4 C535.7 471.9 536.3 469.3 537 466.8 C537.7 464.4 538.3 461.9 539 459.6 C539.7 457.3 540.3 455.1 541 452.9 C541.7 450.8 542.3 448.8 543 446.9 C543.7 445 544.3 443.2 545 441.6 C545.7 439.9 546.3 438.4 547 437.1 C547.7 435.7 548.3 434.5 549 433.5 C549.7 432.5 550.3 431.6 551 431 C551.7 430.3 552.3 429.8 553 429.4 C553.7 429.1 554.3 429 555 429 C555.7 429 556.3 429.3 557 429.7 C557.7 430.1 558.3 430.7 559 431.5 C559.7 432.3 560.3 433.4 561 434.5 C561.7 435.7 562.3 437.1 563 438.6 C563.7 440.2 564.3 441.9 565 443.8 C565.7 445.6 566.3 447.7 567 449.8 C567.7 452 568.3 454.3 569 456.7 C569.7 459.1 570.3 461.7 571 464.3 C571.7 466.9 572.3 469.7 573 472.4 C573.7 475.2 574.3 478.1 575 481 C575.7 484 576.3 486.9 577 489.9 C577.7 492.9 578.3 496 579 499 C579.7 502 580.3 505.1 581 508.1 C581.7 511.1 582.3 514.2 583 517.1 C583.7 520.1 584.3 523.1 585 526 C585.7 528.9 586.3 531.8 587 534.6 C587.7 537.4 588.3 540.1 589 542.8 C589.7 545.5 590.3 548.1 591 550.6 C591.7 553.1 592.3 555.6 593 557.9 C593.7 560.3 594.3 562.6 595 564.7 C595.7 566.9 596.3 569 597 571 C597.7 573 598.3 574.9 599 576.8 C599.7 578.6 600.3 580.3 601 582 C601.7 583.6 602.3 585.2 603 586.7 C603.7 588.1 604.3 589.5 605 590.8 C605.7 592.1 606.3 593.4 607 594.5 C607.7 595.7 608.3 596.7 609 597.8 C609.7 598.8 610.3 599.7 611 600.6 C611.7 601.4 612.3 602.3 613 603 C613.7 603.8 614.3 604.5 615 605.1 C615.7 605.7 616.3 606.3 617 606.9 C617.7 607.4 618.3 607.9 619 608.4 C619.7 608.9 620.3 609.3 621 609.7 C621.7 610.1 622.3 610.4 623 610.7 C623.7 611.1 624.3 611.3 625 611.6 C625.7 611.9 626.3 612.1 627 612.4 C627.7 612.6 628.3 612.8 629 613 C629.7 613.1 630.3 613.3 631 613.5 C631.7 613.6 632.3 613.7 633 613.9 C633.7 614 634.3 614.1 635 614.2 C635.7 614.3 636.3 614.4 637 614.5 C637.7 614.5 638.5 614.6 639 614.7 C639.5 614.7 639.3 614.6 640 614.8 C640.7 614.9 641.8 615.7 643 615.6 C644.2 615.5 645.7 614.5 647 614.4 C648.3 614.3 649.5 615 651 615.2 C652.5 615.4 654.2 615.2 656 615.4 C657.8 615.6 660.2 616.3 662 616.5 C663.8 616.7 665.1 616.8 667 616.8 C668.9 616.8 672.3 616.3 673.4 616.2" fill="none" stroke="#111" stroke-width="1.3" stroke-linejoin="round" stroke-linecap="round" />
<line x1="557.2" y1="437.6" x2="584.8" y2="431.5" stroke="#111" stroke-width="0.75" />
<path d="M589.9 430.4 L584.7 433.6 L584.8 431.5 L583.8 429.7 Z" fill="#111"/>
<text x="592" y="431.1" font-size="10.5" font-weight="bold" text-anchor="start" fill="#000" font-family="Liberation Serif" ><tspan>O</tspan><tspan font-size="7.1" dy="-4.0">2-</tspan><tspan dy="4.0">​</tspan><tspan> in Ag</tspan><tspan font-size="7.1" dy="2.5">3</tspan><tspan dy="-2.5">​</tspan><tspan>PO</tspan><tspan font-size="7.1" dy="2.5">4</tspan><tspan dy="-2.5">​</tspan></text>
<text x="592" y="448.8" font-size="10.5" font-weight="bold" text-anchor="start" fill="#000" font-family="Liberation Serif" >(530.5eV)</text>
<line x1="512.3" y1="597.9" x2="486.7" y2="575.7" stroke="#111" stroke-width="0.75" />
<path d="M482.8 572.3 L488.5 574.6 L486.7 575.7 L485.9 577.6 Z" fill="#111"/>
<text x="466" y="553.1" font-size="10.5" font-weight="bold" text-anchor="start" fill="#000" font-family="Liberation Serif" >-OH</text>
<text x="455.3" y="569.1" font-size="10.5" font-weight="bold" text-anchor="start" fill="#000" font-family="Liberation Serif" >(532.1eV)</text>
<rect x="27.2" y="694.5" width="316.4" height="236.6" fill="none" stroke="#111" stroke-width="1.4"/>
<line x1="86.5" y1="931.1" x2="86.5" y2="927.1" stroke="#000" stroke-width="1.0" />
<line x1="185.4" y1="931.1" x2="185.4" y2="927.1" stroke="#000" stroke-width="1.0" />
<line x1="284.3" y1="931.1" x2="284.3" y2="927.1" stroke="#000" stroke-width="1.0" />
<line x1="37.1" y1="931.1" x2="37.1" y2="928.9" stroke="#000" stroke-width="1.0" />
<line x1="136" y1="931.1" x2="136" y2="928.9" stroke="#000" stroke-width="1.0" />
<line x1="234.8" y1="931.1" x2="234.8" y2="928.9" stroke="#000" stroke-width="1.0" />
<line x1="333.7" y1="931.1" x2="333.7" y2="928.9" stroke="#000" stroke-width="1.0" />
<text x="86.5" y="946.3" font-size="12.0" font-weight="normal" text-anchor="middle" fill="#000" font-family="Liberation Serif" >375</text>
<text x="185.4" y="946.3" font-size="12.0" font-weight="normal" text-anchor="middle" fill="#000" font-family="Liberation Serif" >370</text>
<text x="284.3" y="946.3" font-size="12.0" font-weight="normal" text-anchor="middle" fill="#000" font-family="Liberation Serif" >365</text>
<text x="31.8" y="711.7" font-size="13.3" font-weight="bold" text-anchor="start" fill="#000" font-family="Liberation Serif" >(d) Ag 3d</text>
<text x="151.2" y="964.6" font-size="13.1" font-weight="bold" text-anchor="start" fill="#000" font-family="Liberation Serif" >Binding Energy (eV)</text>
<text transform="translate(12.3 863.6) rotate(-90)" font-size="13.1" font-weight="bold" font-family="Liberation Serif" >Intensity (a.u.)</text>
<path d="M27.2 893.9 C27.4 893.9 27.9 893.9 28.2 893.9 C28.5 893.9 28.9 893.9 29.2 893.9 C29.5 893.9 29.9 893.9 30.2 893.9 C30.5 893.9 30.9 893.9 31.2 893.8 C31.5 893.8 31.9 893.8 32.2 893.8 C32.5 893.8 32.9 893.8 33.2 893.8 C33.5 893.8 33.9 893.8 34.2 893.8 C34.5 893.8 34.9 893.7 35.2 893.7 C35.5 893.7 35.9 893.7 36.2 893.7 C36.5 893.7 36.9 893.7 37.2 893.7 C37.5 893.7 37.9 893.7 38.2 893.7 C38.5 893.6 38.9 893.6 39.2 893.6 C39.5 893.6 39.9 893.6 40.2 893.6 C40.5 893.6 40.9 893.6 41.2 893.6 C41.5 893.6 41.9 893.5 42.2 893.5 C42.5 893.5 42.9 893.5 43.2 893.5 C43.5 893.5 43.9 893.5 44.2 893.5 C44.5 893.5 44.9 893.5 45.2 893.4 C45.5 893.4 45.9 893.4 46.2 893.4 C46.5 893.4 46.9 893.4 47.2 893.4 C47.5 893.4 47.9 893.3 48.2 893.3 C48.5 893.3 48.9 893.3 49.2 893.3 C49.5 893.3 49.9 893.3 50.2 893.3 C50.5 893.2 50.9 893.2 51.2 893.2 C51.5 893.2 51.9 893.2 52.2 893.2 C52.5 893.2 52.9 893.2 53.2 893.1 C53.5 893.1 53.9 893.1 54.2 893.1 C54.5 893.1 54.9 893.1 55.2 893 C55.5 893 55.9 893 56.2 893 C56.5 893 56.9 893 57.2 893 C57.5 892.9 57.9 892.9 58.2 892.9 C58.5 892.9 58.9 892.9 59.2 892.9 C59.5 892.8 59.9 892.8 60.2 892.8 C60.5 892.8 60.9 892.8 61.2 892.7 C61.5 892.7 61.9 892.7 62.2 892.7 C62.5 892.7 62.9 892.6 63.2 892.6 C63.5 892.6 63.9 892.6 64.2 892.5 C64.5 892.5 64.9 892.5 65.2 892.5 C65.5 892.4 65.9 892.4 66.2 892.4 C66.5 892.4 66.9 892.3 67.2 892.3 C67.5 892.3 67.9 892.3 68.2 892.2 C68.5 892.2 68.9 892.2 69.2 892.1 C69.5 892.1 69.9 892.1 70.2 892 C70.5 892 70.9 892 71.2 892 C71.5 892 71.9 892 72.2 892 C72.5 891.9 72.9 891.9 73.2 891.9 C73.5 891.9 73.9 891.8 74.2 891.8 C74.5 891.8 74.9 891.7 75.2 891.7 C75.5 891.6 75.9 891.6 76.2 891.5 C76.5 891.4 76.9 891.4 77.2 891.3 C77.5 891.2 77.9 891.1 78.2 891 C78.5 890.8 78.9 890.7 79.2 890.5 C79.5 890.4 79.9 890.2 80.2 890 C80.5 889.7 80.9 889.5 81.2 889.2 C81.5 888.9 81.9 888.6 82.2 888.2 C82.5 887.8 82.9 887.4 83.2 886.9 C83.5 886.3 83.9 885.8 84.2 885.1 C84.5 884.5 84.9 883.7 85.2 882.9 C85.5 882.1 85.9 881.2 86.2 880.1 C86.5 879.1 86.9 877.9 87.2 876.7 C87.5 875.4 87.9 874 88.2 872.5 C88.5 870.9 88.9 869.2 89.2 867.4 C89.5 865.6 89.9 863.7 90.2 861.6 C90.5 859.5 90.9 857.2 91.2 854.8 C91.5 852.5 91.9 849.9 92.2 847.3 C92.5 844.6 92.9 841.8 93.2 838.9 C93.5 836 93.9 833 94.2 829.9 C94.5 826.8 94.9 823.6 95.2 820.4 C95.5 817.2 95.9 813.8 96.2 810.6 C96.5 807.3 96.9 804 97.2 800.8 C97.5 797.7 97.9 794.5 98.2 791.5 C98.5 788.5 98.9 785.6 99.2 783 C99.5 780.4 99.9 777.9 100.2 775.9 C100.5 773.8 100.9 772.1 101.2 770.8 C101.5 769.5 101.9 768.7 102.2 768.3 C102.5 768 102.9 768.1 103.2 768.7 C103.5 769.3 103.9 770.5 104.2 772 C104.5 773.5 104.9 775.5 105.2 777.8 C105.5 780 105.9 782.6 106.2 785.4 C106.5 788.2 106.9 791.3 107.2 794.4 C107.5 797.5 107.9 800.8 108.2 804 C108.5 807.3 108.9 810.7 109.2 814 C109.5 817.4 109.9 820.7 110.2 824 C110.5 827.2 110.9 830.5 111.2 833.6 C111.5 836.7 111.9 839.7 112.2 842.6 C112.5 845.5 112.9 848.3 113.2 850.9 C113.5 853.5 113.9 856 114.2 858.3 C114.5 860.6 114.9 862.8 115.2 864.8 C115.5 866.7 115.9 868.5 116.2 870.2 C116.5 871.9 116.9 873.4 117.2 874.8 C117.5 876.1 117.9 877.4 118.2 878.5 C118.5 879.6 118.9 880.5 119.2 881.4 C119.5 882.3 119.9 883 120.2 883.7 C120.5 884.4 120.9 885 121.2 885.5 C121.5 886 121.9 886.5 122.2 886.9 C122.5 887.3 122.9 887.7 123.2 888 C123.5 888.4 123.9 888.7 124.2 888.9 C124.5 889.2 124.9 889.5 125.2 889.8 C125.5 890 125.9 890.3 126.2 890.5 C126.5 890.8 126.9 891 127.2 891.3 C127.5 891.5 127.9 891.7 128.2 892 C128.5 892.2 128.9 892.4 129.2 892.7 C129.5 892.9 129.9 893.1 130.2 893.3 C130.5 893.6 130.9 893.8 131.2 894 C131.5 894.2 131.9 894.3 132.2 894.5 C132.5 894.7 132.9 894.9 133.2 895 C133.5 895.2 133.9 895.3 134.2 895.4 C134.5 895.6 134.9 895.7 135.2 895.8 C135.5 895.9 135.9 896 136.2 896.1 C136.5 896.1 136.9 896.2 137.2 896.3 C137.5 896.4 137.9 896.4 138.2 896.5 C138.5 896.5 138.9 896.6 139.2 896.6 C139.5 896.6 139.9 896.7 140.2 896.7 C140.5 896.7 140.9 896.8 141.2 896.8 C141.5 896.8 141.9 896.9 142.2 896.9 C142.5 896.9 142.9 896.9 143.2 896.9 C143.5 897 143.9 897 144.2 897 C144.5 897 144.9 897 145.2 897 C145.5 897.1 145.9 897.1 146.2 897.1 C146.5 897.1 146.9 897.1 147.2 897.1 C147.5 897.1 147.9 897.2 148.2 897.2 C148.5 897.2 148.9 897.2 149.2 897.2 C149.5 897.2 149.9 897.2 150.2 897.2 C150.5 897.2 150.9 897.3 151.2 897.3 C151.5 897.3 151.9 897.3 152.2 897.3 C152.5 897.3 152.9 897.3 153.2 897.3 C153.5 897.3 153.9 897.4 154.2 897.4 C154.5 897.4 154.9 897.4 155.2 897.4 C155.5 897.4 155.9 897.4 156.2 897.4 C156.5 897.4 156.9 897.4 157.2 897.4 C157.5 897.4 157.9 897.5 158.2 897.5 C158.5 897.5 158.9 897.5 159.2 897.5 C159.5 897.5 159.9 897.5 160.2 897.5 C160.5 897.5 160.9 897.5 161.2 897.5 C161.5 897.5 161.9 897.5 162.2 897.5 C162.5 897.5 162.9 897.5 163.2 897.5 C163.5 897.5 163.9 897.5 164.2 897.5 C164.5 897.5 164.9 897.5 165.2 897.5 C165.5 897.5 165.9 897.5 166.2 897.5 C166.5 897.5 166.9 897.5 167.2 897.5 C167.5 897.5 167.9 897.5 168.2 897.5 C168.5 897.5 168.9 897.5 169.2 897.5 C169.5 897.5 169.9 897.5 170.2 897.5 C170.5 897.5 170.9 897.6 171.2 897.6 C171.5 897.6 171.9 897.6 172.2 897.6 C172.5 897.6 172.9 897.6 173.2 897.6 C173.5 897.6 173.9 897.6 174.2 897.6 C174.5 897.6 174.9 897.6 175.2 897.6 C175.5 897.6 175.9 897.6 176.2 897.6 C176.5 897.6 176.9 897.6 177.2 897.6 C177.5 897.6 177.9 897.6 178.2 897.6 C178.5 897.6 178.9 897.6 179.2 897.6 C179.5 897.6 179.9 897.6 180.2 897.5 C180.5 897.5 180.9 897.5 181.2 897.5 C181.5 897.5 181.9 897.4 182.2 897.4 C182.5 897.3 182.9 897.3 183.2 897.3 C183.5 897.2 183.9 897.2 184.2 897.1 C184.5 897 184.9 897 185.2 896.9 C185.5 896.8 185.9 896.7 186.2 896.6 C186.5 896.5 186.9 896.4 187.2 896.2 C187.5 896.1 187.9 896 188.2 895.8 C188.5 895.7 188.9 895.5 189.2 895.3 C189.5 895.2 189.9 895 190.2 894.8 C190.5 894.6 190.9 894.3 191.2 894.1 C191.5 893.9 191.9 893.6 192.2 893.4 C192.5 893.1 192.9 892.9 193.2 892.6 C193.5 892.3 193.9 892 194.2 891.7 C194.5 891.4 194.9 891.1 195.2 890.8 C195.5 890.4 195.9 890.1 196.2 889.7 C196.5 889.3 196.9 889 197.2 888.5 C197.5 888.1 197.9 887.7 198.2 887.2 C198.5 886.7 198.9 886.2 199.2 885.6 C199.5 885.1 199.9 884.4 200.2 883.8 C200.5 883.1 200.9 882.4 201.2 881.5 C201.5 880.7 201.9 879.8 202.2 878.8 C202.5 877.8 202.9 876.7 203.2 875.4 C203.5 874.2 203.9 872.8 204.2 871.3 C204.5 869.8 204.9 868.1 205.2 866.3 C205.5 864.5 205.9 862.5 206.2 860.4 C206.5 858.2 206.9 855.9 207.2 853.4 C207.5 850.9 207.9 848.2 208.2 845.3 C208.5 842.4 208.9 839.4 209.2 836.2 C209.5 832.9 209.9 829.5 210.2 826 C210.5 822.4 210.9 818.7 211.2 814.8 C211.5 811 211.9 806.9 212.2 802.9 C212.5 798.8 212.9 794.5 213.2 790.3 C213.5 786.1 213.9 781.7 214.2 777.4 C214.5 773.1 214.9 768.7 215.2 764.5 C215.5 760.2 215.9 756 216.2 751.9 C216.5 747.9 216.9 743.8 217.2 740.2 C217.5 736.5 217.9 732.9 218.2 729.8 C218.5 726.7 218.9 723.8 219.2 721.4 C219.5 719 219.9 717 220.2 715.7 C220.5 714.3 220.9 713.3 221.2 713 C221.5 712.8 221.9 713 222.2 714.1 C222.5 715.2 222.9 717.1 223.2 719.6 C223.5 722.1 223.9 725.3 224.2 728.9 C224.5 732.4 224.9 736.5 225.2 740.8 C225.5 745 225.9 749.6 226.2 754.2 C226.5 758.8 226.9 763.6 227.2 768.3 C227.5 773 227.9 777.8 228.2 782.4 C228.5 786.9 228.9 791.5 229.2 795.9 C229.5 800.2 229.9 804.5 230.2 808.6 C230.5 812.6 230.9 816.5 231.2 820.3 C231.5 824 231.9 827.6 232.2 831 C232.5 834.3 232.9 837.5 233.2 840.6 C233.5 843.6 233.9 846.4 234.2 849.1 C234.5 851.8 234.9 854.3 235.2 856.6 C235.5 859 235.9 861.1 236.2 863.2 C236.5 865.2 236.9 867.1 237.2 868.8 C237.5 870.6 237.9 872.1 238.2 873.6 C238.5 875.1 238.9 876.5 239.2 877.7 C239.5 879 239.9 880.1 240.2 881.2 C240.5 882.2 240.9 883.2 241.2 884.1 C241.5 885 241.9 885.8 242.2 886.5 C242.5 887.3 242.9 887.9 243.2 888.6 C243.5 889.2 243.9 889.8 244.2 890.3 C244.5 890.8 244.9 891.3 245.2 891.7 C245.5 892.2 245.9 892.6 246.2 892.9 C246.5 893.3 246.9 893.7 247.2 894 C247.5 894.3 247.9 894.6 248.2 894.9 C248.5 895.2 248.9 895.4 249.2 895.7 C249.5 895.9 249.9 896.2 250.2 896.4 C250.5 896.6 250.9 896.8 251.2 897 C251.5 897.2 251.9 897.4 252.2 897.6 C252.5 897.8 252.9 897.9 253.2 898.1 C253.5 898.2 253.9 898.4 254.2 898.5 C254.5 898.7 254.9 898.8 255.2 899 C255.5 899.1 255.9 899.2 256.2 899.4 C256.5 899.5 256.9 899.6 257.2 899.7 C257.5 899.9 257.9 900 258.2 900.1 C258.5 900.2 258.9 900.3 259.2 900.4 C259.5 900.5 259.9 900.6 260.2 900.7 C260.5 900.7 260.9 900.8 261.2 900.9 C261.5 901 261.9 901 262.2 901.1 C262.5 901.2 262.9 901.2 263.2 901.3 C263.5 901.4 263.9 901.4 264.2 901.5 C264.5 901.5 264.9 901.6 265.2 901.7 C265.5 901.7 265.9 901.8 266.2 901.8 C266.5 901.9 266.9 901.9 267.2 902 C267.5 902 267.9 902.1 268.2 902.1 C268.5 902.2 268.9 902.2 269.2 902.2 C269.5 902.3 269.9 902.3 270.2 902.4 C270.5 902.4 270.9 902.5 271.2 902.5 C271.5 902.5 271.9 902.6 272.2 902.6 C272.5 902.6 272.9 902.7 273.2 902.7 C273.5 902.7 273.9 902.8 274.2 902.8 C274.5 902.8 274.9 902.9 275.2 902.9 C275.5 902.9 275.9 903 276.2 903 C276.5 903 276.9 903.1 277.2 903.1 C277.5 903.1 277.9 903.1 278.2 903.2 C278.5 903.2 278.9 903.2 279.2 903.2 C279.5 903.3 279.9 903.3 280.2 903.3 C280.5 903.3 280.9 903.4 281.2 903.4 C281.5 903.4 281.9 903.4 282.2 903.5 C282.5 903.5 282.9 903.5 283.2 903.5 C283.5 903.5 283.9 903.6 284.2 903.6 C284.5 903.6 284.9 903.6 285.2 903.6 C285.5 903.7 285.9 903.7 286.2 903.7 C286.5 903.7 286.9 903.7 287.2 903.8 C287.5 903.8 287.9 903.8 288.2 903.8 C288.5 903.8 288.9 903.8 289.2 903.9 C289.5 903.9 289.9 903.9 290.2 903.9 C290.5 903.9 290.9 903.9 291.2 903.9 C291.5 904 291.9 904 292.2 904 C292.5 904 292.9 904 293.2 904 C293.5 904 293.9 904.1 294.2 904.1 C294.5 904.1 294.9 904.1 295.2 904.1 C295.5 904.1 295.9 904.1 296.2 904.2 C296.5 904.2 296.9 904.2 297.2 904.2 C297.5 904.2 297.9 904.2 298.2 904.2 C298.5 904.2 298.9 904.2 299.2 904.3 C299.5 904.3 299.9 904.3 300.2 904.3 C300.5 904.3 300.9 904.3 301.2 904.3 C301.5 904.3 301.9 904.3 302.2 904.4 C302.5 904.4 302.9 904.4 303.2 904.4 C303.5 904.4 303.9 904.4 304.2 904.4 C304.5 904.4 304.9 904.4 305.2 904.4 C305.5 904.4 305.9 904.5 306.2 904.5 C306.5 904.5 306.9 904.5 307.2 904.5 C307.5 904.5 307.9 904.5 308.2 904.5 C308.5 904.5 308.9 904.5 309.2 904.5 C309.5 904.5 309.9 904.6 310.2 904.6 C310.5 904.6 310.9 904.6 311.2 904.6 C311.5 904.6 311.9 904.6 312.2 904.6 C312.5 904.6 312.9 904.6 313.2 904.6 C313.5 904.6 313.9 904.6 314.2 904.7 C314.5 904.7 314.9 904.7 315.2 904.7 C315.5 904.7 315.9 904.7 316.2 904.7 C316.5 904.7 316.9 904.7 317.2 904.7 C317.5 904.7 317.9 904.7 318.2 904.7 C318.5 904.7 318.9 904.7 319.2 904.7 C319.5 904.8 319.9 904.8 320.2 904.8 C320.5 904.8 320.9 904.8 321.2 904.8 C321.5 904.8 321.9 904.8 322.2 904.8 C322.5 904.8 322.9 904.8 323.2 904.8 C323.5 904.8 323.9 904.8 324.2 904.8 C324.5 904.8 324.9 904.8 325.2 904.9 C325.5 904.9 325.9 904.9 326.2 904.9 C326.5 904.9 326.9 904.9 327.2 904.9 C327.5 904.9 327.9 904.9 328.2 904.9 C328.5 904.9 328.9 904.9 329.2 904.9 C329.5 904.9 329.9 904.9 330.2 904.9 C330.5 904.9 330.9 904.9 331.2 904.9 C331.5 904.9 331.9 904.9 332.2 905 C332.5 905 332.9 905 333.2 905 C333.5 905 333.9 905 334.2 905 C334.5 905 334.9 905 335.2 905 C335.5 905 335.9 905 336.2 905 C336.5 905 336.9 905 337.2 905 C337.5 905 337.9 905 338.2 905 C338.5 905 338.9 905 339.2 905 C339.5 905 339.9 905 340.2 905 C340.5 905.1 340.9 905.1 341.2 905.1 C341.5 905.1 341.9 905.1 342.2 905.1 C342.5 905.1 343 905.1 343.2 905.1" fill="none" stroke="#111" stroke-width="1.2" stroke-linejoin="round" stroke-linecap="round" />
<path d="M27.2 894.3 C34.3 894.2 59.5 893.5 70 893.6 C80.5 893.7 82.6 894.1 90 894.8 C97.4 895.5 104.6 897.2 114.6 897.8 C124.6 898.4 140.8 898.3 150 898.5 C159.2 898.7 161.7 898.6 170 899 C178.3 899.4 191.5 900.1 200 900.8 C208.5 901.5 211.2 902.2 221.1 903 C231 903.8 239 905 259.4 905.4 C279.8 905.8 329.6 905.6 343.6 905.6" fill="none" stroke="#e8e820" stroke-width="1.4" stroke-linejoin="round" stroke-linecap="round" />
<path d="M109 896.2 C109.3 896.2 110.3 896.3 111 896.3 C111.7 896.3 112.3 896.3 113 896.2 C113.7 896.1 114.3 896 115 895.8 C115.7 895.6 116.3 895.2 117 894.9 C117.7 894.5 118.3 894.1 119 893.8 C119.7 893.4 120.3 892.9 121 892.6 C121.7 892.3 122.3 892 123 891.9 C123.7 891.7 124.3 891.7 125 891.7 C125.7 891.8 126.3 892 127 892.3 C127.7 892.6 128.3 893 129 893.3 C129.7 893.7 130.3 894.2 131 894.6 C131.7 895 132.3 895.4 133 895.7 C133.7 896 134.3 896.3 135 896.5 C135.7 896.7 136.3 896.9 137 897 C137.7 897.2 138.3 897.2 139 897.3 C139.7 897.4 140.3 897.4 141 897.5 C141.7 897.5 142.3 897.5 143 897.5 C143.7 897.6 144.7 897.6 145 897.6" fill="none" stroke="#1a1aff" stroke-width="1.2" stroke-linejoin="round" stroke-linecap="round" />
<path d="M176 899.3 C176.3 899.4 177.3 899.4 178 899.4 C178.7 899.5 179.3 899.5 180 899.5 C180.7 899.5 181.3 899.5 182 899.4 C182.7 899.4 183.3 899.3 184 899.2 C184.7 899.1 185.3 899 186 898.8 C186.7 898.6 187.3 898.4 188 898.1 C188.7 897.8 189.3 897.5 190 897.1 C190.7 896.7 191.3 896.3 192 895.8 C192.7 895.4 193.3 895 194 894.6 C194.7 894.2 195.3 893.9 196 893.6 C196.7 893.4 197.3 893.2 198 893.2 C198.7 893.2 199.3 893.3 200 893.5 C200.7 893.7 201.3 894.1 202 894.5 C202.7 894.9 203.3 895.4 204 895.9 C204.7 896.4 205.3 897 206 897.5 C206.7 898 207.3 898.5 208 899 C208.7 899.5 209.3 899.9 210 900.2 C210.7 900.6 211.3 900.9 212 901.2 C212.7 901.4 213.3 901.6 214 901.8 C214.7 902 215.3 902.1 216 902.3 C216.7 902.4 217.3 902.5 218 902.6 C218.7 902.7 219.3 902.8 220 902.9 C220.7 902.9 221.3 903 222 903 C222.7 903.1 223.7 903.2 224 903.2" fill="none" stroke="#33ee33" stroke-width="1.2" stroke-linejoin="round" stroke-linecap="round" />
<path d="M205 900.5 C206.7 900.8 211.7 901.8 215 902.5 C218.3 903.2 221.7 904 225 904.5 C228.3 905 233.3 905.1 235 905.2" fill="none" stroke="#ff2020" stroke-width="1.1" stroke-linejoin="round" stroke-linecap="round" />
<path d="M215 902.3 C217.2 902.5 223.8 903.1 228 903.6 C232.2 904.1 238 904.9 240 905.2" fill="none" stroke="#1a1aff" stroke-width="1.1" stroke-linejoin="round" stroke-linecap="round" />
<path d="M81 894 C81.2 893.9 81.7 893.7 82 893.4 C82.3 893.2 82.7 892.9 83 892.5 C83.3 892.2 83.7 891.8 84 891.3 C84.3 890.8 84.7 890.2 85 889.6 C85.3 888.9 85.7 888.1 86 887.2 C86.3 886.3 86.7 885.3 87 884.2 C87.3 883 87.7 881.7 88 880.2 C88.3 878.7 88.7 877.1 89 875.3 C89.3 873.5 89.7 871.5 90 869.3 C90.3 867.1 90.7 864.8 91 862.2 C91.3 859.7 91.7 856.9 92 854 C92.3 851.2 92.7 848.1 93 844.9 C93.3 841.6 93.7 838.3 94 834.8 C94.3 831.4 94.7 827.8 95 824.2 C95.3 820.7 95.7 817 96 813.4 C96.3 809.9 96.7 806.3 97 802.9 C97.3 799.5 97.7 796.1 98 793 C98.3 789.9 98.7 787 99 784.3 C99.3 781.7 99.7 779.3 100 777.3 C100.3 775.3 100.7 773.6 101 772.4 C101.3 771.1 101.7 770.2 102 769.7 C102.3 769.3 102.7 769.2 103 769.6 C103.3 770 103.7 770.8 104 772 C104.3 773.2 104.7 774.8 105 776.7 C105.3 778.7 105.7 781 106 783.6 C106.3 786.2 106.7 789.1 107 792.2 C107.3 795.3 107.7 798.7 108 802.1 C108.3 805.6 108.7 809.2 109 812.9 C109.3 816.5 109.7 820.2 110 823.9 C110.3 827.5 110.7 831.2 111 834.8 C111.3 838.3 111.7 841.9 112 845.2 C112.3 848.5 112.7 851.8 113 854.8 C113.3 857.9 113.7 860.8 114 863.5 C114.3 866.1 114.7 868.7 115 871 C115.3 873.3 115.7 875.3 116 877.3 C116.3 879.2 116.7 880.9 117 882.5 C117.3 884.1 117.7 885.4 118 886.7 C118.3 887.9 118.7 889 119 890 C119.3 891 119.7 891.8 120 892.6 C120.3 893.3 120.7 893.9 121 894.5 C121.3 895 121.7 895.5 122 895.9 C122.3 896.3 122.7 896.6 123 896.9 C123.3 897.2 123.7 897.4 124 897.6 C124.3 897.8 124.7 898 125 898.1 C125.3 898.3 125.7 898.4 126 898.5 C126.3 898.6 126.7 898.6 127 898.7 C127.3 898.8 127.7 898.8 128 898.9 C128.3 898.9 128.7 898.9 129 899 C129.3 899 129.7 899 130 899 C130.3 899.1 130.8 899.1 131 899.1" fill="none" stroke="#ff2020" stroke-width="1.2" stroke-linejoin="round" stroke-linecap="round" />
<path d="M194 899.8 C194.2 899.7 194.7 899.6 195 899.5 C195.3 899.4 195.7 899.3 196 899.1 C196.3 899 196.7 898.8 197 898.5 C197.3 898.3 197.7 898 198 897.7 C198.3 897.4 198.7 897 199 896.5 C199.3 896.1 199.7 895.6 200 895 C200.3 894.4 200.7 893.7 201 892.9 C201.3 892.1 201.7 891.3 202 890.3 C202.3 889.2 202.7 888.1 203 886.8 C203.3 885.5 203.7 884.1 204 882.5 C204.3 880.9 204.7 879.2 205 877.2 C205.3 875.3 205.7 873.1 206 870.8 C206.3 868.5 206.7 865.9 207 863.2 C207.3 860.5 207.7 857.5 208 854.4 C208.3 851.2 208.7 847.9 209 844.3 C209.3 840.8 209.7 837 210 833.1 C210.3 829.2 210.7 825.1 211 820.9 C211.3 816.6 211.7 812.2 212 807.8 C212.3 803.4 212.7 798.8 213 794.3 C213.3 789.7 213.7 785.1 214 780.6 C214.3 776 214.7 771.5 215 767.1 C215.3 762.7 215.7 758.4 216 754.4 C216.3 750.3 216.7 746.4 217 742.8 C217.3 739.2 217.7 735.8 218 732.9 C218.3 729.9 218.7 727.2 219 724.9 C219.3 722.7 219.7 720.8 220 719.4 C220.3 718 220.7 717 221 716.5 C221.3 716 221.7 715.9 222 716.3 C222.3 716.8 222.7 717.8 223 719.3 C223.3 720.8 223.7 722.8 224 725.3 C224.3 727.7 224.7 730.7 225 734.1 C225.3 737.4 225.7 741.2 226 745.2 C226.3 749.2 226.7 753.6 227 758.1 C227.3 762.6 227.7 767.4 228 772.3 C228.3 777.1 228.7 782.1 229 787.1 C229.3 792.1 229.7 797.1 230 802 C230.3 806.9 230.7 811.9 231 816.6 C231.3 821.3 231.7 826 232 830.4 C232.3 834.8 232.7 839 233 843 C233.3 847 233.7 850.8 234 854.4 C234.3 858 234.7 861.3 235 864.4 C235.3 867.4 235.7 870.3 236 872.9 C236.3 875.5 236.7 877.8 237 880 C237.3 882.2 237.7 884.1 238 885.8 C238.3 887.6 238.7 889.1 239 890.5 C239.3 891.9 239.7 893.1 240 894.2 C240.3 895.3 240.7 896.2 241 897.1 C241.3 897.9 241.7 898.6 242 899.2 C242.3 899.8 242.7 900.4 243 900.8 C243.3 901.3 243.7 901.7 244 902 C244.3 902.3 244.7 902.6 245 902.9 C245.3 903.1 245.7 903.3 246 903.5 C246.3 903.7 246.7 903.8 247 903.9 C247.3 904 247.7 904.1 248 904.2 C248.3 904.3 248.7 904.4 249 904.5 C249.3 904.5 249.8 904.6 250 904.6" fill="none" stroke="#ff22ff" stroke-width="1.2" stroke-linejoin="round" stroke-linecap="round" />
<text x="118.3" y="751.4" font-size="10.8" font-weight="bold" text-anchor="start" fill="#000" font-family="Liberation Serif" ><tspan>Ag 3d</tspan><tspan font-size="7.3" dy="2.6">3/2</tspan><tspan dy="-2.6">​</tspan></text>
<text x="109.9" y="768" font-size="10.8" font-weight="bold" text-anchor="start" fill="#000" font-family="Liberation Serif" >(374.1 eV)</text>
<text x="241" y="717.7" font-size="10.8" font-weight="bold" text-anchor="start" fill="#000" font-family="Liberation Serif" ><tspan>Ag 3d</tspan><tspan font-size="7.3" dy="2.6">5/2</tspan><tspan dy="-2.6">​</tspan></text>
<text x="232.6" y="735.2" font-size="10.8" font-weight="bold" text-anchor="start" fill="#000" font-family="Liberation Serif" >(368.1 eV)</text>
<text x="154.9" y="855.7" font-size="12.2" font-weight="bold" text-anchor="start" fill="#000" font-family="Liberation Serif" ><tspan>Ag</tspan><tspan font-size="8.3" dy="-4.6">0</tspan><tspan dy="4.6">​</tspan></text>
<line x1="127.4" y1="891.5" x2="149.6" y2="864.9" stroke="#111" stroke-width="0.75" />
<path d="M152.9 860.9 L150.7 866.6 L149.6 864.9 L147.7 864.1 Z" fill="#111"/>
<line x1="198.2" y1="892.2" x2="171.9" y2="864.7" stroke="#111" stroke-width="0.75" />
<path d="M168.3 860.9 L173.8 863.7 L171.9 864.7 L170.9 866.5 Z" fill="#111"/>
<text x="109.1" y="911.3" font-size="10.0" font-weight="bold" text-anchor="start" fill="#000" font-family="Liberation Serif" >372.9 eV</text>
<text x="179.6" y="913" font-size="10.0" font-weight="bold" text-anchor="start" fill="#000" font-family="Liberation Serif" >369.4 eV</text>
<rect x="378.8" y="695.6" width="293.1" height="235.4" fill="none" stroke="#111" stroke-width="1.4"/>
<line x1="378.8" y1="931" x2="378.8" y2="927" stroke="#000" stroke-width="1.0" />
<line x1="452.1" y1="931" x2="452.1" y2="927" stroke="#000" stroke-width="1.0" />
<line x1="525.4" y1="931" x2="525.4" y2="927" stroke="#000" stroke-width="1.0" />
<line x1="598.6" y1="931" x2="598.6" y2="927" stroke="#000" stroke-width="1.0" />
<line x1="671.9" y1="931" x2="671.9" y2="927" stroke="#000" stroke-width="1.0" />
<line x1="415.4" y1="931" x2="415.4" y2="928.8" stroke="#000" stroke-width="1.0" />
<line x1="488.7" y1="931" x2="488.7" y2="928.8" stroke="#000" stroke-width="1.0" />
<line x1="562" y1="931" x2="562" y2="928.8" stroke="#000" stroke-width="1.0" />
<line x1="635.3" y1="931" x2="635.3" y2="928.8" stroke="#000" stroke-width="1.0" />
<text x="378.8" y="946.2" font-size="11.6" font-weight="bold" text-anchor="middle" fill="#000" font-family="Liberation Serif" >166</text>
<text x="452.1" y="946.2" font-size="11.6" font-weight="bold" text-anchor="middle" fill="#000" font-family="Liberation Serif" >164</text>
<text x="525.4" y="946.2" font-size="11.6" font-weight="bold" text-anchor="middle" fill="#000" font-family="Liberation Serif" >162</text>
<text x="598.6" y="946.2" font-size="11.6" font-weight="bold" text-anchor="middle" fill="#000" font-family="Liberation Serif" >160</text>
<text x="671.9" y="946.2" font-size="11.6" font-weight="bold" text-anchor="middle" fill="#000" font-family="Liberation Serif" >158</text>
<text x="384.8" y="714.4" font-size="13.1" font-weight="bold" text-anchor="start" fill="#000" font-family="Liberation Serif" >(e) S 2p</text>
<text x="483.7" y="961.6" font-size="13.1" font-weight="bold" text-anchor="start" fill="#000" font-family="Liberation Serif" >Binding Energy (eV)</text>
<text transform="translate(363.9 863.1) rotate(-90)" font-size="13.2" font-weight="bold" font-family="Liberation Serif" >Intensity (a.u.)</text>
<path d="M379.2 900.4 C379.9 900.4 381.9 900.4 383.2 900.4 C384.5 900.4 385.9 900.4 387.2 900.4 C388.5 900.4 389.9 900.4 391.2 900.4 C392.5 900.4 393.9 900.4 395.2 900.4 C396.5 900.4 397.9 900.4 399.2 900.4 C400.5 900.4 401.9 900.4 403.2 900.4 C404.5 900.4 405.9 900.4 407.2 900.4 C408.5 900.4 409.9 900.4 411.2 900.4 C412.5 900.4 413.9 900.4 415.2 900.4 C416.5 900.4 417.9 900.4 419.2 900.4 C420.5 900.4 421.9 900.4 423.2 900.4 C424.5 900.4 425.9 900.4 427.2 900.4 C428.5 900.4 429.9 900.4 431.2 900.4 C432.5 900.4 433.9 900.4 435.2 900.4 C436.5 900.4 437.9 900.4 439.2 900.4 C440.5 900.4 441.9 900.4 443.2 900.4 C444.5 900.4 445.9 900.5 447.2 900.5 C448.5 900.5 449.9 900.6 451.2 900.6 C452.5 900.6 453.9 900.7 455.2 900.7 C456.5 900.7 457.9 900.8 459.2 900.8 C460.5 900.8 461.9 900.9 463.2 900.9 C464.5 900.9 465.9 901 467.2 901 C468.5 901 469.9 901.1 471.2 901.1 C472.5 901.1 473.9 901.2 475.2 901.2 C476.5 901.2 477.9 901.3 479.2 901.3 C480.5 901.3 481.9 901.4 483.2 901.4 C484.5 901.4 485.9 901.4 487.2 901.5 C488.5 901.6 489.9 901.7 491.2 901.8 C492.5 901.9 493.9 902 495.2 902.1 C496.5 902.2 497.9 902.3 499.2 902.4 C500.5 902.5 501.9 902.5 503.2 902.6 C504.5 902.7 505.9 902.8 507.2 902.9 C508.5 903.1 509.9 903.2 511.2 903.4 C512.5 903.6 513.9 903.8 515.2 904 C516.5 904.2 517.9 904.5 519.2 904.7 C520.5 904.9 521.9 905 523.2 905.2 C524.5 905.4 525.9 905.6 527.2 905.8 C528.5 905.9 529.9 906.1 531.2 906.3 C532.5 906.5 533.9 906.6 535.2 906.8 C536.5 907 537.9 907.2 539.2 907.3 C540.5 907.5 541.9 907.7 543.2 907.9 C544.5 908 545.9 908.2 547.2 908.4 C548.5 908.6 549.9 908.8 551.2 908.9 C552.5 909.1 553.9 909.2 555.2 909.3 C556.5 909.5 557.9 909.5 559.2 909.7 C560.5 909.8 561.9 909.9 563.2 910 C564.5 910.1 565.9 910.2 567.2 910.3 C568.5 910.4 569.9 910.5 571.2 910.6 C572.5 910.7 573.9 910.8 575.2 910.9 C576.5 910.9 577.9 910.9 579.2 910.9 C580.5 910.9 581.9 910.9 583.2 911 C584.5 911 585.9 911 587.2 911 C588.5 911 589.9 911 591.2 911 C592.5 911 593.9 911 595.2 911 C596.5 911 597.9 911.1 599.2 911.1 C600.5 911.1 601.9 911.1 603.2 911.1 C604.5 911.1 605.9 911.1 607.2 911.1 C608.5 911.1 609.9 911.1 611.2 911.1 C612.5 911.1 613.9 911.2 615.2 911.2 C616.5 911.2 617.9 911.2 619.2 911.2 C620.5 911.2 621.9 911.2 623.2 911.2 C624.5 911.2 625.9 911.2 627.2 911.2 C628.5 911.2 629.9 911.2 631.2 911.2 C632.5 911.2 633.9 911.2 635.2 911.2 C636.5 911.2 637.9 911.2 639.2 911.2 C640.5 911.2 641.9 911.2 643.2 911.2 C644.5 911.2 645.9 911.2 647.2 911.2 C648.5 911.2 649.9 911.2 651.2 911.2 C652.5 911.2 653.9 911.2 655.2 911.2 C656.5 911.2 657.9 911.2 659.2 911.2 C660.5 911.2 661.9 911.2 663.2 911.2 C664.5 911.2 665.9 911.2 667.2 911.2 C668.5 911.2 670.4 911.2 671.2 911.2 C672 911.2 671.8 911.2 671.9 911.2" fill="none" stroke="#c9a227" stroke-width="1.3" stroke-linejoin="round" stroke-linecap="round" />
<path d="M450 900.5 C450.2 900.5 450.7 900.5 451 900.5 C451.3 900.5 451.7 900.5 452 900.5 C452.3 900.5 452.7 900.5 453 900.5 C453.3 900.5 453.7 900.5 454 900.5 C454.3 900.5 454.7 900.5 455 900.5 C455.3 900.4 455.7 900.4 456 900.4 C456.3 900.4 456.7 900.4 457 900.4 C457.3 900.4 457.7 900.3 458 900.3 C458.3 900.3 458.7 900.3 459 900.2 C459.3 900.2 459.7 900.2 460 900.1 C460.3 900.1 460.7 900 461 900 C461.3 899.9 461.7 899.9 462 899.8 C462.3 899.8 462.7 899.7 463 899.6 C463.3 899.5 463.7 899.5 464 899.4 C464.3 899.3 464.7 899.2 465 899.1 C465.3 899 465.7 898.9 466 898.7 C466.3 898.6 466.7 898.5 467 898.3 C467.3 898.2 467.7 898 468 897.8 C468.3 897.6 468.7 897.5 469 897.3 C469.3 897 469.7 896.8 470 896.6 C470.3 896.4 470.7 896.1 471 895.8 C471.3 895.6 471.7 895.3 472 895 C472.3 894.6 472.7 894.3 473 893.9 C473.3 893.6 473.7 893.2 474 892.8 C474.3 892.4 474.7 892 475 891.5 C475.3 891.1 475.7 890.6 476 890.1 C476.3 889.6 476.7 889 477 888.5 C477.3 887.9 477.7 887.3 478 886.7 C478.3 886.1 478.7 885.4 479 884.7 C479.3 884 479.7 883.3 480 882.5 C480.3 881.8 480.7 881 481 880.2 C481.3 879.3 481.7 878.5 482 877.6 C482.3 876.7 482.7 875.8 483 874.8 C483.3 873.9 483.7 872.9 484 871.8 C484.3 870.8 484.7 869.8 485 868.7 C485.3 867.6 485.7 866.4 486 865.3 C486.3 864.1 486.7 862.9 487 861.7 C487.3 860.5 487.7 859.3 488 858 C488.3 856.8 488.7 855.5 489 854.2 C489.3 852.9 489.7 851.6 490 850.2 C490.3 848.9 490.7 847.5 491 846.2 C491.3 844.8 491.7 843.4 492 842 C492.3 840.7 492.7 839.3 493 837.9 C493.3 836.5 493.7 835.1 494 833.7 C494.3 832.3 494.7 830.9 495 829.5 C495.3 828.1 495.7 826.7 496 825.4 C496.3 824 496.7 822.7 497 821.4 C497.3 820.1 497.7 818.8 498 817.5 C498.3 816.3 498.7 815.1 499 813.9 C499.3 812.7 499.7 811.6 500 810.5 C500.3 809.4 500.7 808.3 501 807.3 C501.3 806.3 501.7 805.3 502 804.4 C502.3 803.5 502.7 802.7 503 801.9 C503.3 801.1 503.7 800.4 504 799.8 C504.3 799.1 504.7 798.5 505 798 C505.3 797.5 505.7 797.1 506 796.7 C506.3 796.3 506.7 796 507 795.8 C507.3 795.6 507.7 795.4 508 795.4 C508.3 795.3 508.7 795.3 509 795.4 C509.3 795.5 509.7 795.7 510 795.9 C510.3 796.1 510.7 796.4 511 796.8 C511.3 797.2 511.7 797.6 512 798.1 C512.3 798.6 512.7 799.1 513 799.7 C513.3 800.4 513.7 801 514 801.8 C514.3 802.5 514.7 803.3 515 804.1 C515.3 804.9 515.7 805.8 516 806.8 C516.3 807.7 516.7 808.7 517 809.7 C517.3 810.7 517.7 811.8 518 812.9 C518.3 814 518.7 815.2 519 816.3 C519.3 817.5 519.7 818.7 520 820 C520.3 821.2 520.7 822.5 521 823.7 C521.3 825 521.7 826.3 522 827.6 C522.3 828.9 522.7 830.3 523 831.6 C523.3 832.9 523.7 834.3 524 835.7 C524.3 837 524.7 838.4 525 839.7 C525.3 841.1 525.7 842.5 526 843.8 C526.3 845.2 526.7 846.5 527 847.9 C527.3 849.2 527.7 850.6 528 851.9 C528.3 853.2 528.7 854.5 529 855.8 C529.3 857.1 529.7 858.4 530 859.7 C530.3 860.9 530.7 862.2 531 863.4 C531.3 864.6 531.7 865.8 532 867 C532.3 868.2 532.7 869.3 533 870.4 C533.3 871.6 533.7 872.6 534 873.7 C534.3 874.8 534.7 875.8 535 876.8 C535.3 877.8 535.7 878.8 536 879.8 C536.3 880.7 536.7 881.7 537 882.6 C537.3 883.5 537.7 884.3 538 885.2 C538.3 886 538.7 886.8 539 887.6 C539.3 888.4 539.7 889.1 540 889.8 C540.3 890.6 540.7 891.2 541 891.9 C541.3 892.6 541.7 893.2 542 893.8 C542.3 894.4 542.7 895 543 895.6 C543.3 896.1 543.7 896.7 544 897.2 C544.3 897.7 544.7 898.2 545 898.7 C545.3 899.1 545.7 899.6 546 900 C546.3 900.4 546.7 900.8 547 901.2 C547.3 901.6 547.7 901.9 548 902.3 C548.3 902.6 548.7 902.9 549 903.3 C549.3 903.6 549.7 903.9 550 904.1 C550.3 904.4 550.7 904.7 551 904.9 C551.3 905.2 551.7 905.4 552 905.6 C552.3 905.9 552.7 906.1 553 906.3 C553.3 906.5 553.7 906.6 554 906.8 C554.3 907 554.7 907.1 555 907.3 C555.3 907.4 555.7 907.5 556 907.7 C556.3 907.8 556.7 907.9 557 908 C557.3 908.1 557.7 908.2 558 908.3 C558.3 908.4 558.7 908.5 559 908.6 C559.3 908.7 559.7 908.8 560 908.9 C560.3 909 560.7 909 561 909.1 C561.3 909.2 561.7 909.2 562 909.3 C562.3 909.4 562.7 909.4 563 909.5 C563.3 909.5 563.7 909.6 564 909.6 C564.3 909.7 564.7 909.7 565 909.8 C565.3 909.8 565.7 909.9 566 909.9 C566.3 910 566.7 910 567 910 C567.3 910.1 567.7 910.1 568 910.2 C568.3 910.2 568.7 910.2 569 910.3 C569.3 910.3 569.7 910.3 570 910.4 C570.3 910.4 570.7 910.4 571 910.5 C571.3 910.5 571.7 910.5 572 910.6 C572.3 910.6 572.7 910.6 573 910.7 C573.3 910.7 573.7 910.7 574 910.7 C574.3 910.8 574.7 910.8 575 910.8 C575.3 910.9 575.7 910.9 576 910.9 C576.3 910.9 576.7 910.9 577 910.9 C577.3 910.9 577.7 910.9 578 910.9 C578.3 910.9 578.7 910.9 579 910.9 C579.3 910.9 579.8 910.9 580 910.9" fill="none" stroke="#3a6fdc" stroke-width="1.3" stroke-linejoin="round" stroke-linecap="round" />
<path d="M503 902.4 C503.2 902.4 503.7 902.4 504 902.4 C504.3 902.4 504.7 902.4 505 902.4 C505.3 902.4 505.7 902.3 506 902.3 C506.3 902.3 506.7 902.3 507 902.3 C507.3 902.2 507.7 902.2 508 902.1 C508.3 902.1 508.7 902 509 902 C509.3 901.9 509.7 901.9 510 901.8 C510.3 901.8 510.7 901.7 511 901.6 C511.3 901.6 511.7 901.5 512 901.4 C512.3 901.3 512.7 901.1 513 901 C513.3 900.9 513.7 900.7 514 900.5 C514.3 900.4 514.7 900.2 515 899.9 C515.3 899.7 515.7 899.5 516 899.2 C516.3 898.9 516.7 898.6 517 898.3 C517.3 898 517.7 897.6 518 897.2 C518.3 896.8 518.7 896.4 519 895.9 C519.3 895.4 519.7 894.9 520 894.3 C520.3 893.7 520.7 893.1 521 892.5 C521.3 891.8 521.7 891.1 522 890.3 C522.3 889.5 522.7 888.7 523 887.8 C523.3 886.9 523.7 886 524 885 C524.3 884 524.7 882.9 525 881.8 C525.3 880.7 525.7 879.5 526 878.2 C526.3 876.9 526.7 875.6 527 874.2 C527.3 872.8 527.7 871.3 528 869.7 C528.3 868.2 528.7 866.5 529 864.8 C529.3 863.1 529.7 861.3 530 859.5 C530.3 857.6 530.7 855.7 531 853.7 C531.3 851.7 531.7 849.6 532 847.5 C532.3 845.3 532.7 843.1 533 840.9 C533.3 838.6 533.7 836.2 534 833.8 C534.3 831.4 534.7 829 535 826.5 C535.3 824 535.7 821.4 536 818.8 C536.3 816.3 536.7 813.6 537 811 C537.3 808.3 537.7 805.6 538 802.9 C538.3 800.2 538.7 797.5 539 794.8 C539.3 792.1 539.7 789.4 540 786.7 C540.3 784 540.7 781.3 541 778.6 C541.3 776 541.7 773.4 542 770.8 C542.3 768.2 542.7 765.7 543 763.2 C543.3 760.8 543.7 758.4 544 756.1 C544.3 753.8 544.7 751.5 545 749.4 C545.3 747.3 545.7 745.3 546 743.3 C546.3 741.4 546.7 739.6 547 737.9 C547.3 736.3 547.7 734.7 548 733.3 C548.3 731.9 548.7 730.6 549 729.5 C549.3 728.4 549.7 727.4 550 726.6 C550.3 725.8 550.7 725.2 551 724.7 C551.3 724.2 551.7 723.9 552 723.7 C552.3 723.6 552.7 723.6 553 723.7 C553.3 723.9 553.7 724.2 554 724.6 C554.3 725.1 554.7 725.7 555 726.4 C555.3 727.2 555.7 728.1 556 729.1 C556.3 730.1 556.7 731.3 557 732.6 C557.3 733.9 557.7 735.3 558 736.8 C558.3 738.4 558.7 740 559 741.8 C559.3 743.6 559.7 745.5 560 747.5 C560.3 749.4 560.7 751.5 561 753.7 C561.3 755.8 561.7 758.1 562 760.4 C562.3 762.7 562.7 765.1 563 767.5 C563.3 770 563.7 772.5 564 775 C564.3 777.5 564.7 780.1 565 782.7 C565.3 785.3 565.7 788 566 790.6 C566.3 793.2 566.7 795.9 567 798.5 C567.3 801.2 567.7 803.8 568 806.5 C568.3 809.1 568.7 811.7 569 814.3 C569.3 816.9 569.7 819.5 570 822 C570.3 824.5 570.7 827 571 829.5 C571.3 831.9 571.7 834.4 572 836.7 C572.3 839.1 572.7 841.4 573 843.7 C573.3 845.9 573.7 848.1 574 850.2 C574.3 852.4 574.7 854.5 575 856.5 C575.3 858.5 575.7 860.4 576 862.3 C576.3 864.1 576.7 865.9 577 867.6 C577.3 869.4 577.7 871 578 872.6 C578.3 874.2 578.7 875.7 579 877.2 C579.3 878.6 579.7 880 580 881.3 C580.3 882.7 580.7 883.9 581 885.1 C581.3 886.3 581.7 887.5 582 888.5 C582.3 889.6 582.7 890.6 583 891.6 C583.3 892.6 583.7 893.5 584 894.3 C584.3 895.2 584.7 896 585 896.7 C585.3 897.5 585.7 898.2 586 898.8 C586.3 899.5 586.7 900.1 587 900.7 C587.3 901.3 587.7 901.8 588 902.3 C588.3 902.8 588.7 903.3 589 903.7 C589.3 904.2 589.7 904.6 590 904.9 C590.3 905.3 590.7 905.6 591 906 C591.3 906.3 591.7 906.6 592 906.8 C592.3 907.1 592.7 907.4 593 907.6 C593.3 907.8 593.7 908 594 908.2 C594.3 908.4 594.7 908.6 595 908.7 C595.3 908.9 595.7 909 596 909.2 C596.3 909.3 596.7 909.4 597 909.5 C597.3 909.7 597.7 909.8 598 909.9 C598.3 909.9 598.7 910 599 910.1 C599.3 910.2 599.7 910.2 600 910.3 C600.3 910.4 600.8 910.4 601 910.5" fill="none" stroke="#e8323c" stroke-width="1.3" stroke-linejoin="round" stroke-linecap="round" />
<path d="M379.2 896.5 L386.8 900.2 L396.6 896.5 L405.4 900.9 L408.7 900.2 L415.2 896.5 L419.6 896 L427.3 891.5 L434.9 895.4 L443.7 893.2 L452.4 889.9 L460.1 889.3 L467.8 881.8 L474.3 881.2 L478.7 880.1 L482 874.6 L487.5 860.4 L493 845 L497.3 823.1 L500.4 806.3 L503.5 796 L507.6 790.9 L512.7 793 L516.5 797 L520.9 802.2 L524 809 L527 818.5 L530.1 820.6 L533.1 810.4 L536 793 L539.3 773.6 L543.4 747 L547.4 724.5 L550.5 721.5 L552.6 723.5 L555 729 L557.7 738.8 L560.8 751 L563.8 767.4 L567 790 L569.9 814.5 L571 820 L574.5 842 L578.8 864.4 L582.5 880 L586.6 893.2 L591 900.5 L595.4 903.9 L603.2 903.9 L609.9 905.4 L616.5 901.4 L624.3 905.4 L632 904.8 L638.7 908.7 L643.1 907.6 L650.9 910.5 L656 911.5 L662 912.1 L666 911.5 L671.9 909.5" fill="none" stroke="#333" stroke-width="1.3" stroke-linejoin="round" stroke-linecap="round" />
<text x="485.7" y="771.1" font-size="10.9" font-weight="bold" text-anchor="start" fill="#000" font-family="Liberation Serif" ><tspan>S 2p</tspan><tspan font-size="7.4" dy="2.6">1/2</tspan><tspan dy="-2.6">​</tspan></text>
<text x="476.2" y="788.3" font-size="10.9" font-weight="bold" text-anchor="start" fill="#000" font-family="Liberation Serif" >(162.4 eV)</text>
<text x="574" y="727.6" font-size="10.9" font-weight="bold" text-anchor="start" fill="#000" font-family="Liberation Serif" ><tspan>S 2p</tspan><tspan font-size="7.4" dy="2.6">3/2</tspan><tspan dy="-2.6">​</tspan></text>
<text x="565.4" y="745" font-size="10.9" font-weight="bold" text-anchor="start" fill="#000" font-family="Liberation Serif" >(161.2 eV)</text>
<rect x="30.4" y="977.9" width="314.1" height="235.4" fill="none" stroke="#333" stroke-width="1.5"/>
<line x1="30.4" y1="1213.3" x2="30.4" y2="1209.3" stroke="#000" stroke-width="1.0" />
<line x1="69.7" y1="1213.3" x2="69.7" y2="1209.3" stroke="#000" stroke-width="1.0" />
<line x1="108.9" y1="1213.3" x2="108.9" y2="1209.3" stroke="#000" stroke-width="1.0" />
<line x1="148.2" y1="1213.3" x2="148.2" y2="1209.3" stroke="#000" stroke-width="1.0" />
<line x1="187.5" y1="1213.3" x2="187.5" y2="1209.3" stroke="#000" stroke-width="1.0" />
<line x1="226.7" y1="1213.3" x2="226.7" y2="1209.3" stroke="#000" stroke-width="1.0" />
<line x1="266" y1="1213.3" x2="266" y2="1209.3" stroke="#000" stroke-width="1.0" />
<line x1="305.2" y1="1213.3" x2="305.2" y2="1209.3" stroke="#000" stroke-width="1.0" />
<line x1="344.5" y1="1213.3" x2="344.5" y2="1209.3" stroke="#000" stroke-width="1.0" />
<line x1="50" y1="1213.3" x2="50" y2="1211.1" stroke="#000" stroke-width="1.0" />
<line x1="89.3" y1="1213.3" x2="89.3" y2="1211.1" stroke="#000" stroke-width="1.0" />
<line x1="128.6" y1="1213.3" x2="128.6" y2="1211.1" stroke="#000" stroke-width="1.0" />
<line x1="167.8" y1="1213.3" x2="167.8" y2="1211.1" stroke="#000" stroke-width="1.0" />
<line x1="207.1" y1="1213.3" x2="207.1" y2="1211.1" stroke="#000" stroke-width="1.0" />
<line x1="246.3" y1="1213.3" x2="246.3" y2="1211.1" stroke="#000" stroke-width="1.0" />
<line x1="285.6" y1="1213.3" x2="285.6" y2="1211.1" stroke="#000" stroke-width="1.0" />
<line x1="324.9" y1="1213.3" x2="324.9" y2="1211.1" stroke="#000" stroke-width="1.0" />
<text x="30.4" y="1227.2" font-size="11.6" font-weight="normal" text-anchor="middle" fill="#000" font-family="Liberation Serif" >140</text>
<text x="69.7" y="1227.2" font-size="11.6" font-weight="normal" text-anchor="middle" fill="#000" font-family="Liberation Serif" >138</text>
<text x="108.9" y="1227.2" font-size="11.6" font-weight="normal" text-anchor="middle" fill="#000" font-family="Liberation Serif" >136</text>
<text x="148.2" y="1227.2" font-size="11.6" font-weight="normal" text-anchor="middle" fill="#000" font-family="Liberation Serif" >134</text>
<text x="187.5" y="1227.2" font-size="11.6" font-weight="normal" text-anchor="middle" fill="#000" font-family="Liberation Serif" >132</text>
<text x="226.7" y="1227.2" font-size="11.6" font-weight="normal" text-anchor="middle" fill="#000" font-family="Liberation Serif" >130</text>
<text x="266" y="1227.2" font-size="11.6" font-weight="normal" text-anchor="middle" fill="#000" font-family="Liberation Serif" >128</text>
<text x="305.2" y="1227.2" font-size="11.6" font-weight="normal" text-anchor="middle" fill="#000" font-family="Liberation Serif" >126</text>
<text x="344.5" y="1227.2" font-size="11.6" font-weight="normal" text-anchor="middle" fill="#000" font-family="Liberation Serif" >124</text>
<text x="35.5" y="998" font-size="13.1" font-weight="bold" text-anchor="start" fill="#000" font-family="Liberation Serif" >(f) P 2p</text>
<text x="154.2" y="1245.8" font-size="13.1" font-weight="bold" text-anchor="start" fill="#000" font-family="Liberation Serif" >Binding Energy (eV)</text>
<text transform="translate(17.6 1131.9) rotate(-90)" font-size="13.0" font-weight="bold" font-family="Liberation Serif" >Intensity (a.u.)</text>
<path d="M30.9 1182.4 C31.2 1182.8 32.4 1184.9 33 1185.5 C33.6 1186.1 34.6 1187.3 35.3 1187.2 C36 1187.1 37.4 1186.2 38.2 1185 C39 1183.8 40.4 1179.5 41.1 1178.5 C41.8 1177.5 42.8 1177.3 43.3 1177.4 C43.8 1177.5 44.1 1179.9 44.8 1179.2 C45.5 1178.5 47.5 1172.8 48.4 1172.2 C49.3 1171.6 50.5 1173.6 51.4 1174.8 C52.3 1176 54 1181 55 1181.4 C56 1181.8 57.7 1178 58.7 1178 C59.7 1178 61.3 1181 62.3 1181.4 C63.3 1181.8 65.1 1181.1 66 1181 C66.9 1180.9 68.1 1180.4 68.9 1180.4 C69.7 1180.4 70.7 1181.7 71.8 1181 C72.9 1180.3 75.9 1176.1 76.9 1175.5 C77.9 1174.9 78.3 1175.7 79.1 1176.3 C79.9 1176.9 81.7 1179.2 82.7 1179.9 C83.7 1180.6 85.5 1181.5 86.4 1181.4 C87.3 1181.3 88.3 1179.8 89.3 1179.2 C90.3 1178.6 92.7 1176.4 93.7 1176.6 C94.7 1176.8 95.8 1180.3 96.6 1180.7 C97.4 1181.1 98.5 1180.6 99.5 1179.9 C100.5 1179.2 102.7 1176.1 103.9 1175.5 C105.1 1174.9 107.2 1174.8 108.3 1175.1 C109.4 1175.4 110.9 1177.7 111.9 1178 C112.9 1178.3 114.5 1178.1 115.6 1177.7 C116.7 1177.3 118.8 1176.1 120 1174.8 C121.2 1173.5 123.3 1169.6 124.4 1168.2 C125.5 1166.8 126.9 1165.6 128 1164.6 C129.1 1163.6 131.4 1162.6 132.7 1160.5 C134 1158.4 136.4 1151.4 137.4 1148.8 C138.4 1146.2 139.7 1142.5 140.5 1141 C141.3 1139.5 142.4 1139.3 143.2 1137.2 C144 1135.1 145.8 1128.9 146.7 1125.5 C147.6 1122.1 149.1 1117.1 150.2 1111.5 C151.3 1105.9 154 1089.3 154.9 1083.4 C155.8 1077.5 156.4 1070.5 157.2 1067.1 C158 1063.7 159.8 1062.4 160.7 1057.7 C161.6 1053 163.3 1037.6 164.2 1032 C165.1 1026.4 166.6 1018.8 167.7 1015.7 C168.8 1012.6 171.1 1010.3 172.4 1008.7 C173.7 1007.1 175.8 1004.5 177.1 1004 C178.4 1003.5 180.7 1003 181.8 1005.2 C182.9 1007.4 184.1 1013.7 185.3 1020.4 C186.5 1027.1 189.6 1047 191.1 1055.4 C192.6 1063.8 195.3 1074.1 196.9 1083.4 C198.5 1092.7 201.2 1115.5 202.8 1125.5 C204.4 1135.5 207.4 1152.8 208.6 1158.2 C209.8 1163.6 211.1 1164.4 212 1166 C212.9 1167.6 214.5 1169.2 215.6 1169.9 C216.7 1170.6 218.9 1170.1 220.3 1171 C221.7 1171.9 224.7 1175.2 226.1 1176.9 C227.5 1178.6 229.5 1183.8 230.8 1183.9 C232.1 1184 234.4 1178.1 235.5 1178 C236.6 1177.9 238.1 1181.6 239 1183 C239.9 1184.4 241.4 1188.6 242.5 1188.6 C243.6 1188.6 246.2 1183.3 247.2 1182.7 C248.2 1182.1 249.1 1183.9 250 1183.8 C250.9 1183.7 253.1 1182 254.2 1182 C255.3 1182 256.8 1183.6 258 1184 C259.2 1184.4 261.5 1184.9 262.9 1184.8 C264.3 1184.7 267.3 1183.5 268.8 1183.1 C270.3 1182.7 272.5 1181.3 273.9 1181.6 C275.3 1181.9 277.9 1185.7 279 1185.5 C280.1 1185.3 281 1181.6 281.9 1180.4 C282.8 1179.2 284.5 1176.3 285.5 1176.4 C286.5 1176.5 287.9 1179.4 289.2 1181.2 C290.5 1183 293.9 1189.5 295 1189.9 C296.1 1190.3 296.5 1185 297.2 1184.1 C297.9 1183.2 299.3 1183.9 300.1 1183.4 C300.9 1182.9 302.2 1181.3 303.1 1180.4 C304 1179.5 305.5 1176.4 306.7 1176.8 C307.9 1177.2 310.7 1182.7 311.8 1183.4 C312.9 1184.1 313.4 1181.7 314.7 1181.9 C316 1182.1 320.2 1184.3 321.3 1184.8 C322.4 1185.3 322.1 1186.6 322.8 1186 C323.5 1185.4 325.4 1181.2 326.4 1180.4 C327.4 1179.6 329 1180.4 330.1 1180.1 C331.2 1179.8 333.3 1178.3 334.5 1178.2 C335.7 1178.1 337.5 1178.8 338.8 1179 C340.1 1179.2 343.2 1179.6 343.9 1179.7" fill="none" stroke="#111" stroke-width="1.3" stroke-linejoin="round" stroke-linecap="round" />
<path d="M30.4 1182.4 C31.2 1182.4 33.7 1182.4 35.4 1182.4 C37.1 1182.4 38.7 1182.4 40.4 1182.4 C42.1 1182.5 43.7 1182.5 45.4 1182.5 C47.1 1182.5 48.7 1182.5 50.4 1182.5 C52.1 1182.5 53.7 1182.5 55.4 1182.5 C57.1 1182.5 58.7 1182.5 60.4 1182.5 C62.1 1182.5 63.7 1182.5 65.4 1182.6 C67.1 1182.6 68.7 1182.6 70.4 1182.6 C72.1 1182.6 73.7 1182.6 75.4 1182.6 C77.1 1182.6 78.7 1182.6 80.4 1182.6 C82.1 1182.6 83.7 1182.6 85.4 1182.6 C87.1 1182.6 88.7 1182.7 90.4 1182.7 C92.1 1182.7 93.7 1182.7 95.4 1182.7 C97.1 1182.7 98.7 1182.7 100.4 1182.7 C102.1 1182.7 103.7 1182.8 105.4 1182.8 C107.1 1182.8 108.7 1182.9 110.4 1182.9 C112.1 1182.9 113.7 1182.9 115.4 1183 C117.1 1183 118.7 1183 120.4 1183.1 C122.1 1183.1 123.7 1183.1 125.4 1183.2 C127.1 1183.2 128.7 1183.2 130.4 1183.2 C132.1 1183.3 133.7 1183.3 135.4 1183.3 C137.1 1183.4 138.7 1183.4 140.4 1183.4 C142.1 1183.5 143.7 1183.5 145.4 1183.5 C147.1 1183.5 148.7 1183.6 150.4 1183.6 C152.1 1183.7 153.7 1183.8 155.4 1183.9 C157.1 1183.9 158.7 1184 160.4 1184.1 C162.1 1184.2 163.7 1184.2 165.4 1184.3 C167.1 1184.4 168.7 1184.5 170.4 1184.6 C172.1 1184.6 173.7 1184.7 175.4 1184.8 C177.1 1184.9 178.7 1184.9 180.4 1185 C182.1 1185.1 183.7 1185.2 185.4 1185.3 C187.1 1185.4 188.7 1185.4 190.4 1185.5 C192.1 1185.6 193.7 1185.7 195.4 1185.8 C197.1 1185.9 198.7 1186 200.4 1186 C202.1 1186 203.7 1186 205.4 1186 C207.1 1186.1 208.7 1186.1 210.4 1186.1 C212.1 1186.1 213.7 1186.1 215.4 1186.1 C217.1 1186.1 218.7 1186.1 220.4 1186.2 C222.1 1186.2 223.7 1186.2 225.4 1186.2 C227.1 1186.2 228.7 1186.2 230.4 1186.2 C232.1 1186.2 233.7 1186.3 235.4 1186.3 C237.1 1186.3 238.7 1186.3 240.4 1186.3 C242.1 1186.3 243.7 1186.3 245.4 1186.3 C247.1 1186.3 248.7 1186.3 250.4 1186.3 C252.1 1186.3 253.7 1186.3 255.4 1186.3 C257.1 1186.3 258.7 1186.3 260.4 1186.3 C262.1 1186.3 263.7 1186.3 265.4 1186.3 C267.1 1186.3 268.7 1186.3 270.4 1186.3 C272.1 1186.3 273.7 1186.3 275.4 1186.3 C277.1 1186.3 278.7 1186.3 280.4 1186.3 C282.1 1186.3 283.7 1186.3 285.4 1186.3 C287.1 1186.3 288.7 1186.3 290.4 1186.3 C292.1 1186.3 293.7 1186.4 295.4 1186.4 C297.1 1186.4 298.7 1186.4 300.4 1186.4 C302.1 1186.4 303.7 1186.4 305.4 1186.4 C307.1 1186.4 308.7 1186.4 310.4 1186.4 C312.1 1186.4 313.7 1186.4 315.4 1186.4 C317.1 1186.4 318.7 1186.4 320.4 1186.4 C322.1 1186.4 323.7 1186.4 325.4 1186.4 C327.1 1186.4 328.7 1186.4 330.4 1186.4 C332.1 1186.4 333.7 1186.4 335.4 1186.4 C337.1 1186.4 338.9 1186.4 340.4 1186.4 C341.9 1186.4 343.8 1186.4 344.5 1186.4" fill="none" stroke="#1a1aff" stroke-width="1.3" stroke-linejoin="round" stroke-linecap="round" />
<path d="M107 1182.5 C107.2 1182.4 107.7 1182.4 108 1182.4 C108.3 1182.4 108.7 1182.4 109 1182.3 C109.3 1182.3 109.7 1182.3 110 1182.3 C110.3 1182.2 110.7 1182.2 111 1182.2 C111.3 1182.1 111.7 1182.1 112 1182 C112.3 1182 112.7 1182 113 1181.9 C113.3 1181.9 113.7 1181.8 114 1181.7 C114.3 1181.7 114.7 1181.6 115 1181.5 C115.3 1181.5 115.7 1181.4 116 1181.3 C116.3 1181.2 116.7 1181.2 117 1181.1 C117.3 1181 117.7 1180.9 118 1180.8 C118.3 1180.7 118.7 1180.5 119 1180.4 C119.3 1180.3 119.7 1180.2 120 1180 C120.3 1179.9 120.7 1179.7 121 1179.6 C121.3 1179.4 121.7 1179.2 122 1179 C122.3 1178.9 122.7 1178.7 123 1178.5 C123.3 1178.2 123.7 1178 124 1177.8 C124.3 1177.6 124.7 1177.3 125 1177 C125.3 1176.8 125.7 1176.5 126 1176.2 C126.3 1175.9 126.7 1175.6 127 1175.3 C127.3 1174.9 127.7 1174.6 128 1174.2 C128.3 1173.8 128.7 1173.4 129 1173 C129.3 1172.6 129.7 1172.2 130 1171.7 C130.3 1171.3 130.7 1170.8 131 1170.3 C131.3 1169.8 131.7 1169.3 132 1168.7 C132.3 1168.2 132.7 1167.6 133 1167 C133.3 1166.4 133.7 1165.8 134 1165.1 C134.3 1164.5 134.7 1163.8 135 1163.1 C135.3 1162.4 135.7 1161.6 136 1160.9 C136.3 1160.1 136.7 1159.3 137 1158.4 C137.3 1157.6 137.7 1156.7 138 1155.8 C138.3 1154.9 138.7 1154 139 1153 C139.3 1152 139.7 1151 140 1150 C140.3 1149 140.7 1147.9 141 1146.8 C141.3 1145.7 141.7 1144.5 142 1143.4 C142.3 1142.2 142.7 1141 143 1139.7 C143.3 1138.5 143.7 1137.2 144 1135.9 C144.3 1134.6 144.7 1133.2 145 1131.8 C145.3 1130.5 145.7 1129 146 1127.6 C146.3 1126.1 146.7 1124.7 147 1123.1 C147.3 1121.6 147.7 1120.1 148 1118.5 C148.3 1116.9 148.7 1115.3 149 1113.7 C149.3 1112.1 149.7 1110.4 150 1108.7 C150.3 1107 150.7 1105.3 151 1103.6 C151.3 1101.9 151.7 1100.2 152 1098.4 C152.3 1096.6 152.7 1094.9 153 1093.1 C153.3 1091.3 153.7 1089.5 154 1087.6 C154.3 1085.8 154.7 1084 155 1082.2 C155.3 1080.3 155.7 1078.5 156 1076.6 C156.3 1074.8 156.7 1072.9 157 1071.1 C157.3 1069.3 157.7 1067.4 158 1065.6 C158.3 1063.7 158.7 1061.9 159 1060.1 C159.3 1058.3 159.7 1056.5 160 1054.7 C160.3 1052.9 160.7 1051.2 161 1049.4 C161.3 1047.7 161.7 1046 162 1044.3 C162.3 1042.6 162.7 1041 163 1039.3 C163.3 1037.7 163.7 1036.1 164 1034.6 C164.3 1033.1 164.7 1031.6 165 1030.1 C165.3 1028.6 165.7 1027.2 166 1025.9 C166.3 1024.5 166.7 1023.2 167 1022 C167.3 1020.7 167.7 1019.5 168 1018.4 C168.3 1017.2 168.7 1016.2 169 1015.1 C169.3 1014.1 169.7 1013.2 170 1012.3 C170.3 1011.4 170.7 1010.6 171 1009.9 C171.3 1009.1 171.7 1008.4 172 1007.8 C172.3 1007.2 172.7 1006.7 173 1006.3 C173.3 1005.8 173.7 1005.5 174 1005.2 C174.3 1004.9 174.7 1004.6 175 1004.5 C175.3 1004.4 175.7 1004.3 176 1004.3 C176.3 1004.3 176.7 1004.4 177 1004.6 C177.3 1004.8 177.7 1005 178 1005.4 C178.3 1005.7 178.7 1006.1 179 1006.6 C179.3 1007.1 179.7 1007.7 180 1008.3 C180.3 1009 180.7 1009.7 181 1010.5 C181.3 1011.3 181.7 1012.2 182 1013.1 C182.3 1014.1 182.7 1015.1 183 1016.1 C183.3 1017.2 183.7 1018.4 184 1019.6 C184.3 1020.8 184.7 1022 185 1023.3 C185.3 1024.7 185.7 1026 186 1027.5 C186.3 1028.9 186.7 1030.4 187 1031.9 C187.3 1033.4 187.7 1035 188 1036.6 C188.3 1038.2 188.7 1039.9 189 1041.6 C189.3 1043.3 189.7 1045 190 1046.8 C190.3 1048.5 190.7 1050.3 191 1052.1 C191.3 1053.9 191.7 1055.7 192 1057.6 C192.3 1059.4 192.7 1061.3 193 1063.2 C193.3 1065.1 193.7 1067 194 1068.9 C194.3 1070.8 194.7 1072.7 195 1074.6 C195.3 1076.5 195.7 1078.4 196 1080.3 C196.3 1082.2 196.7 1084.1 197 1086 C197.3 1087.9 197.7 1089.8 198 1091.6 C198.3 1093.5 198.7 1095.4 199 1097.2 C199.3 1099.1 199.7 1100.9 200 1102.7 C200.3 1104.5 200.7 1106.3 201 1108 C201.3 1109.7 201.7 1111.5 202 1113.2 C202.3 1114.9 202.7 1116.5 203 1118.2 C203.3 1119.8 203.7 1121.4 204 1123 C204.3 1124.6 204.7 1126.1 205 1127.7 C205.3 1129.2 205.7 1130.7 206 1132.1 C206.3 1133.6 206.7 1135 207 1136.4 C207.3 1137.7 207.7 1139.1 208 1140.4 C208.3 1141.7 208.7 1143 209 1144.2 C209.3 1145.5 209.7 1146.7 210 1147.8 C210.3 1149 210.7 1150.1 211 1151.2 C211.3 1152.3 211.7 1153.4 212 1154.4 C212.3 1155.4 212.7 1156.4 213 1157.4 C213.3 1158.3 213.7 1159.2 214 1160.1 C214.3 1161 214.7 1161.9 215 1162.7 C215.3 1163.5 215.7 1164.3 216 1165 C216.3 1165.8 216.7 1166.5 217 1167.2 C217.3 1167.9 217.7 1168.6 218 1169.2 C218.3 1169.9 218.7 1170.5 219 1171.1 C219.3 1171.6 219.7 1172.2 220 1172.7 C220.3 1173.3 220.7 1173.8 221 1174.2 C221.3 1174.7 221.7 1175.2 222 1175.6 C222.3 1176.1 222.7 1176.5 223 1176.9 C223.3 1177.3 223.7 1177.6 224 1178 C224.3 1178.3 224.7 1178.7 225 1179 C225.3 1179.3 225.7 1179.6 226 1179.9 C226.3 1180.2 226.7 1180.5 227 1180.7 C227.3 1181 227.7 1181.2 228 1181.4 C228.3 1181.6 228.7 1181.9 229 1182.1 C229.3 1182.3 229.7 1182.4 230 1182.6 C230.3 1182.8 230.7 1183 231 1183.1 C231.3 1183.3 231.7 1183.4 232 1183.6 C232.3 1183.7 232.7 1183.8 233 1183.9 C233.3 1184.1 233.7 1184.2 234 1184.3 C234.3 1184.4 234.7 1184.5 235 1184.6 C235.3 1184.7 235.7 1184.8 236 1184.8 C236.3 1184.9 236.7 1185 237 1185.1 C237.3 1185.1 237.7 1185.2 238 1185.2 C238.3 1185.3 238.7 1185.4 239 1185.4 C239.3 1185.5 239.7 1185.5 240 1185.6 C240.3 1185.6 240.7 1185.6 241 1185.7 C241.3 1185.7 241.7 1185.7 242 1185.8 C242.3 1185.8 242.7 1185.8 243 1185.9 C243.3 1185.9 243.7 1185.9 244 1185.9 C244.3 1186 244.7 1186 245 1186 C245.3 1186 245.8 1186 246 1186.1" fill="none" stroke="#ff2020" stroke-width="1.3" stroke-linejoin="round" stroke-linecap="round" />
<text x="193.4" y="1012.7" font-size="10.7" font-weight="bold" text-anchor="start" fill="#000" font-family="Liberation Serif" >132.5 eV</text>
<rect x="383.9" y="978.6" width="286.2" height="231.5" fill="none" stroke="#333" stroke-width="1.5"/>
<line x1="383.9" y1="1210.1" x2="383.9" y2="1206.1" stroke="#000" stroke-width="1.0" />
<line x1="441.1" y1="1210.1" x2="441.1" y2="1206.1" stroke="#000" stroke-width="1.0" />
<line x1="498.4" y1="1210.1" x2="498.4" y2="1206.1" stroke="#000" stroke-width="1.0" />
<line x1="555.6" y1="1210.1" x2="555.6" y2="1206.1" stroke="#000" stroke-width="1.0" />
<line x1="612.9" y1="1210.1" x2="612.9" y2="1206.1" stroke="#000" stroke-width="1.0" />
<line x1="670.1" y1="1210.1" x2="670.1" y2="1206.1" stroke="#000" stroke-width="1.0" />
<line x1="412.5" y1="1210.1" x2="412.5" y2="1207.9" stroke="#000" stroke-width="1.0" />
<line x1="469.8" y1="1210.1" x2="469.8" y2="1207.9" stroke="#000" stroke-width="1.0" />
<line x1="527" y1="1210.1" x2="527" y2="1207.9" stroke="#000" stroke-width="1.0" />
<line x1="584.2" y1="1210.1" x2="584.2" y2="1207.9" stroke="#000" stroke-width="1.0" />
<line x1="641.5" y1="1210.1" x2="641.5" y2="1207.9" stroke="#000" stroke-width="1.0" />
<text x="383.9" y="1224.4" font-size="11.7" font-weight="bold" text-anchor="middle" fill="#000" font-family="Liberation Serif" >404</text>
<text x="441.1" y="1224.4" font-size="11.7" font-weight="bold" text-anchor="middle" fill="#000" font-family="Liberation Serif" >402</text>
<text x="498.4" y="1224.4" font-size="11.7" font-weight="bold" text-anchor="middle" fill="#000" font-family="Liberation Serif" >400</text>
<text x="555.6" y="1224.4" font-size="11.7" font-weight="bold" text-anchor="middle" fill="#000" font-family="Liberation Serif" >398</text>
<text x="612.9" y="1224.4" font-size="11.7" font-weight="bold" text-anchor="middle" fill="#000" font-family="Liberation Serif" >396</text>
<text x="670.1" y="1224.4" font-size="11.7" font-weight="bold" text-anchor="middle" fill="#000" font-family="Liberation Serif" >394</text>
<text x="391.9" y="999" font-size="12.9" font-weight="bold" text-anchor="start" fill="#000" font-family="Liberation Serif" >(g) N 1s</text>
<text x="478.1" y="1245.5" font-size="12.9" font-weight="bold" text-anchor="start" fill="#000" font-family="Liberation Serif" >Binding Energy (eV)</text>
<text transform="translate(373.9 1133.2) rotate(-90)" font-size="13.0" font-weight="bold" font-family="Liberation Serif" >Intensity (a.u.)</text>
<path d="M564.4 1139.5 C568.1 1138.4 580.3 1134.8 586.6 1132.8 C592.9 1130.8 597.3 1129.5 602.1 1127.3 C606.9 1125.1 611.3 1121.9 615.4 1119.5 C619.5 1117.1 622.8 1115.4 626.5 1112.8 C630.2 1110.2 633.9 1107.1 637.6 1104 C641.3 1100.9 645 1097 648.7 1094 C652.4 1091 656.2 1088.7 659.8 1086.2 C663.4 1083.8 668.4 1080.5 670.1 1079.3" fill="none" stroke="#1a1aff" stroke-width="1.3" stroke-linejoin="round" stroke-linecap="round" />
<path d="M440 1163.5 C440.2 1163.4 440.7 1163.1 441 1162.9 C441.3 1162.7 441.7 1162.5 442 1162.3 C442.3 1162.1 442.7 1161.8 443 1161.6 C443.3 1161.4 443.7 1161.2 444 1160.9 C444.3 1160.7 444.7 1160.5 445 1160.2 C445.3 1160 445.7 1159.8 446 1159.5 C446.3 1159.3 446.7 1159 447 1158.8 C447.3 1158.5 447.7 1158.2 448 1157.9 C448.3 1157.7 448.7 1157.4 449 1157.1 C449.3 1156.8 449.7 1156.5 450 1156.2 C450.3 1155.9 450.7 1155.7 451 1155.4 C451.3 1155.1 451.7 1154.8 452 1154.5 C452.3 1154.2 452.7 1153.9 453 1153.5 C453.3 1153.2 453.7 1152.8 454 1152.4 C454.3 1152 454.7 1151.6 455 1151.1 C455.3 1150.7 455.7 1150.2 456 1149.7 C456.3 1149.2 456.7 1148.7 457 1148.1 C457.3 1147.6 457.7 1147 458 1146.4 C458.3 1145.8 458.7 1145.1 459 1144.4 C459.3 1143.8 459.7 1143.1 460 1142.3 C460.3 1141.6 460.7 1140.9 461 1140.1 C461.3 1139.3 461.7 1138.5 462 1137.7 C462.3 1136.9 462.7 1136.1 463 1135.2 C463.3 1134.4 463.7 1133.5 464 1132.6 C464.3 1131.7 464.7 1130.9 465 1130 C465.3 1129.1 465.7 1128.2 466 1127.3 C466.3 1126.5 466.7 1125.6 467 1124.8 C467.3 1123.9 467.7 1123.1 468 1122.3 C468.3 1121.5 468.7 1120.7 469 1120 C469.3 1119.2 469.7 1118.5 470 1117.8 C470.3 1117.2 470.7 1116.5 471 1116 C471.3 1115.4 471.7 1114.9 472 1114.5 C472.3 1114.1 472.7 1113.8 473 1113.5 C473.3 1113.2 473.7 1113 474 1112.8 C474.3 1112.6 474.7 1112.5 475 1112.5 C475.3 1112.5 475.7 1112.5 476 1112.6 C476.3 1112.6 476.7 1112.8 477 1113 C477.3 1113.2 477.7 1113.4 478 1113.7 C478.3 1114 478.7 1114.3 479 1114.7 C479.3 1115.1 479.7 1115.6 480 1116 C480.3 1116.5 480.7 1117 481 1117.6 C481.3 1118.1 481.7 1118.7 482 1119.3 C482.3 1119.9 482.7 1120.5 483 1121.1 C483.3 1121.8 483.7 1122.4 484 1123.1 C484.3 1123.7 484.7 1124.4 485 1125.1 C485.3 1125.7 485.7 1126.4 486 1127.1 C486.3 1127.7 486.7 1128.4 487 1129 C487.3 1129.7 487.7 1130.3 488 1130.9 C488.3 1131.5 488.7 1132.1 489 1132.7 C489.3 1133.3 489.7 1133.8 490 1134.4 C490.3 1134.9 490.7 1135.4 491 1135.9 C491.3 1136.4 491.7 1136.9 492 1137.3 C492.3 1137.7 492.7 1138.1 493 1138.5 C493.3 1138.9 493.7 1139.3 494 1139.7 C494.3 1140 494.7 1140.4 495 1140.7 C495.3 1141 495.7 1141.3 496 1141.6 C496.3 1141.9 496.7 1142.1 497 1142.3 C497.3 1142.6 497.7 1142.8 498 1143 C498.3 1143.2 498.7 1143.3 499 1143.5 C499.3 1143.6 499.7 1143.8 500 1143.9 C500.3 1144 500.7 1144.1 501 1144.2 C501.3 1144.3 501.7 1144.4 502 1144.5 C502.3 1144.6 502.7 1144.6 503 1144.7 C503.3 1144.7 503.7 1144.8 504 1144.8 C504.3 1144.9 504.7 1144.9 505 1144.9 C505.3 1144.9 505.7 1145 506 1145 C506.3 1145 506.7 1145 507 1145 C507.3 1145 507.7 1145 508 1145 C508.3 1145 508.7 1145 509 1145 C509.3 1145 509.7 1145 510 1145 C510.3 1145 510.7 1144.9 511 1144.9 C511.3 1144.9 511.7 1144.9 512 1144.9 C512.3 1144.9 512.7 1144.8 513 1144.8 C513.3 1144.8 513.7 1144.8 514 1144.8 C514.3 1144.7 514.7 1144.7 515 1144.7 C515.3 1144.7 515.7 1144.7 516 1144.7 C516.3 1144.6 516.7 1144.6 517 1144.6 C517.3 1144.6 517.7 1144.6 518 1144.5 C518.3 1144.5 518.7 1144.5 519 1144.5 C519.3 1144.5 519.8 1144.4 520 1144.4" fill="none" stroke="#1a1aff" stroke-width="1.3" stroke-linejoin="round" stroke-linecap="round" />
<path d="M383.9 1193.5 C387.6 1191.8 398.6 1186.8 405.9 1183 C413.2 1179.2 420.9 1175 427.8 1171 C434.7 1167 442.1 1163 447.5 1158.9 C452.9 1154.8 456 1150.9 460 1146.5 C464 1142.1 467.3 1137.7 471.6 1132.6 C475.9 1127.5 481.2 1121.3 485.8 1116 C490.4 1110.7 495.1 1106.4 499 1100.7 C502.9 1095 505.6 1088.6 509.2 1081.8 C512.9 1075 517.5 1066.5 520.9 1059.9 C524.3 1053.3 526.7 1047.2 529.6 1042.3 C532.5 1037.4 535.2 1033.7 538.4 1030.7 C541.6 1027.7 545.2 1025 548.8 1024.4 C552.4 1023.8 556.2 1024.9 559.9 1027.3 C563.6 1029.7 567.3 1034.3 571 1038.8 C574.7 1043.3 578.4 1048.4 582.1 1054.3 C585.8 1060.2 589.5 1068.8 593.2 1074.3 C596.9 1079.8 600.6 1083.9 604.3 1087.6 C608 1091.3 611.7 1094.5 615.4 1096.5 C619.1 1098.5 622.8 1099.6 626.5 1099.8 C630.2 1100 633.9 1098.9 637.6 1097.6 C641.3 1096.3 645 1094.1 648.7 1092.1 C652.4 1090.1 656.2 1087.7 659.8 1085.4 C663.4 1083.1 668.4 1079.7 670.1 1078.5" fill="none" stroke="#f03030" stroke-width="1.3" stroke-linejoin="round" stroke-linecap="round" />
<path d="M383.9 1194 C387.6 1192.2 398.6 1186.8 405.9 1183 C413.2 1179.2 420.5 1175.1 427.8 1170.9 C435.1 1166.7 442.4 1161.3 449.7 1157.8 C457 1154.3 464.3 1152 471.6 1150.1 C478.9 1148.2 486.2 1147.1 493.5 1146.2 C500.8 1145.3 507.3 1145.2 515.4 1144.7 C523.5 1144.2 534 1144.1 542.2 1143.1 C550.4 1142.1 557 1140.5 564.4 1138.7 C571.8 1136.9 580.3 1134 586.6 1132 C592.9 1130 597.3 1128.7 602.1 1126.5 C606.9 1124.3 611.3 1121.1 615.4 1118.7 C619.5 1116.3 622.8 1114.6 626.5 1112 C630.2 1109.4 633.9 1106.3 637.6 1103.2 C641.3 1100.1 645 1096.2 648.7 1093.2 C652.4 1090.2 656.2 1087.9 659.8 1085.4 C663.4 1083 668.4 1079.7 670.1 1078.5" fill="none" stroke="#33ee33" stroke-width="1.3" stroke-linejoin="round" stroke-linecap="round" />
<path d="M383.9 1174.2 C384.2 1175 385.4 1178.5 386 1180 C386.6 1181.5 387.6 1183.6 388.4 1185.2 C389.2 1186.8 390.9 1191.6 391.7 1191.7 C392.5 1191.8 393.8 1187.3 394.5 1186 C395.2 1184.7 396.4 1182 397.1 1181.9 C397.8 1181.8 399.3 1184 400 1185 C400.7 1186 401.9 1189.6 402.6 1189.6 C403.3 1189.6 404.3 1186.2 405 1185 C405.7 1183.8 407 1181.9 408.1 1180.8 C409.2 1179.7 412.4 1178.5 413.6 1176.4 C414.8 1174.3 416.1 1168.2 417 1165 C417.9 1161.8 419.4 1153.2 420.1 1152.3 C420.8 1151.4 421.9 1156.5 422.5 1158 C423.1 1159.5 423.6 1161.6 424.5 1163.3 C425.4 1165 427.8 1171.1 428.9 1170.9 C430 1170.7 431.5 1164.8 432.5 1162 C433.5 1159.2 435.7 1153 436.6 1150.1 C437.5 1147.2 438.7 1142.6 439.5 1140 C440.3 1137.4 442 1131.2 442.7 1130.4 C443.4 1129.6 444 1132.5 444.5 1134 C445 1135.5 445.8 1137.5 446.4 1141.4 C447 1145.3 448.4 1160.7 449.3 1163.3 C450.2 1165.9 451.9 1161.8 453 1161.1 C454.1 1160.4 456.5 1160.3 457.4 1157.8 C458.3 1155.3 459.3 1146.2 460 1142 C460.7 1137.8 461.8 1129 462.8 1126 C463.8 1123 466.2 1122.4 467.2 1119.5 C468.2 1116.6 469.5 1107.1 470.5 1104.2 C471.5 1101.3 473.9 1098.2 474.9 1097.6 C475.9 1097 477.2 1098.6 478.2 1099.8 C479.2 1101 481.5 1107.5 482.5 1106.6 C483.5 1105.7 485 1096.1 485.8 1093.4 C486.6 1090.7 488 1086.7 488.8 1086.1 C489.6 1085.5 490.9 1088.8 491.7 1089.1 C492.5 1089.4 493.8 1088 494.6 1088.3 C495.4 1088.6 496.8 1090 497.5 1091.2 C498.2 1092.4 498.9 1095.6 499.7 1097.1 C500.5 1098.6 502.5 1101.9 503.4 1102.2 C504.3 1102.5 505.4 1100.9 506.3 1099.3 C507.2 1097.7 509 1092.5 510 1090 C511 1087.5 512.3 1083.3 513.6 1080.3 C514.9 1077.3 518.1 1068.6 519.4 1067.2 C520.7 1065.8 522.3 1070.9 523.1 1070.1 C523.9 1069.3 524.6 1065.6 525.3 1061.3 C526 1057 527.4 1042.2 528.2 1038 C529 1033.8 530.2 1031.3 531.1 1029.9 C532 1028.5 533.8 1029 534.7 1027.7 C535.6 1026.4 537 1022.1 537.7 1020.4 C538.4 1018.7 539.2 1014.9 539.9 1014.6 C540.6 1014.3 542 1017.8 542.8 1018.2 C543.6 1018.6 544.9 1018.1 545.7 1017.5 C546.5 1016.9 547.8 1013.8 548.6 1013.9 C549.4 1014 550.8 1016.9 551.5 1018.2 C552.2 1019.5 553.1 1022.9 553.7 1023.4 C554.3 1023.9 555.1 1021.8 555.9 1021.9 C556.7 1022 558.8 1022.7 559.6 1024.1 C560.4 1025.5 561.1 1029.5 561.8 1032.1 C562.5 1034.7 563.9 1040.7 564.7 1043.8 C565.5 1046.9 566.7 1053.5 567.6 1055.5 C568.5 1057.5 570.2 1059 571.2 1059.1 C572.2 1059.2 573.9 1057.6 574.9 1056.2 C575.9 1054.8 577.5 1050 578.8 1048.8 C580.1 1047.6 583.1 1046.9 584.3 1047.2 C585.5 1047.5 586.8 1048.3 587.7 1051 C588.6 1053.7 590.1 1063 591 1067.7 C591.9 1072.4 593.6 1087.2 594.8 1086.5 C596 1085.8 598.8 1065.1 599.9 1062.1 C601 1059.1 602.2 1061.2 603.2 1064.3 C604.2 1067.4 606.1 1079.2 607.6 1085.4 C609.1 1091.6 612.8 1108.7 614.3 1110.9 C615.8 1113.1 617.5 1103.6 618.7 1102 C619.9 1100.4 621.9 1096.8 623.2 1098.7 C624.5 1100.6 627.4 1116.5 628.7 1116.5 C630 1116.5 632 1103.6 633.2 1098.7 C634.4 1093.8 636.6 1082.6 637.6 1079.9 C638.6 1077.2 639.9 1078.7 640.9 1078.8 C641.9 1078.9 644.4 1080.9 645.4 1081 C646.4 1081.1 647.7 1078.9 648.7 1079.9 C649.7 1080.9 651.9 1090.2 653.1 1088.7 C654.3 1087.2 656.6 1071.8 657.6 1068.8 C658.6 1065.8 659.7 1066.5 660.9 1066.5 C662.1 1066.5 665.2 1067.9 666.4 1068.8 C667.6 1069.7 669.6 1072.9 670.1 1073.5" fill="none" stroke="#111" stroke-width="1.3" stroke-linejoin="round" stroke-linecap="round" />
<line x1="473.8" y1="1111.8" x2="472" y2="1084.8" stroke="#111" stroke-width="0.75" />
<path d="M471.6 1079.6 L474 1085.3 L472 1084.8 L470 1085.5 Z" fill="#111"/>
<text x="428.9" y="1059.9" font-size="11.8" font-weight="bold" text-anchor="start" fill="#000" font-family="Liberation Serif" >Graphitic-N</text>
<text x="434.8" y="1075.7" font-size="11.8" font-weight="bold" text-anchor="start" fill="#000" font-family="Liberation Serif" >(400.8 eV)</text>
<line x1="561" y1="1025" x2="586.9" y2="1020.8" stroke="#111" stroke-width="0.75" />
<path d="M592.1 1020 L586.7 1022.9 L586.9 1020.8 L586.1 1018.9 Z" fill="#111"/>
<text x="595" y="1019.5" font-size="11.8" font-weight="bold" text-anchor="start" fill="#000" font-family="Liberation Serif" >C-N</text>
<text x="586.1" y="1035.5" font-size="11.8" font-weight="bold" text-anchor="start" fill="#000" font-family="Liberation Serif" >(398.2 eV)</text>
</svg>
</body></html>
